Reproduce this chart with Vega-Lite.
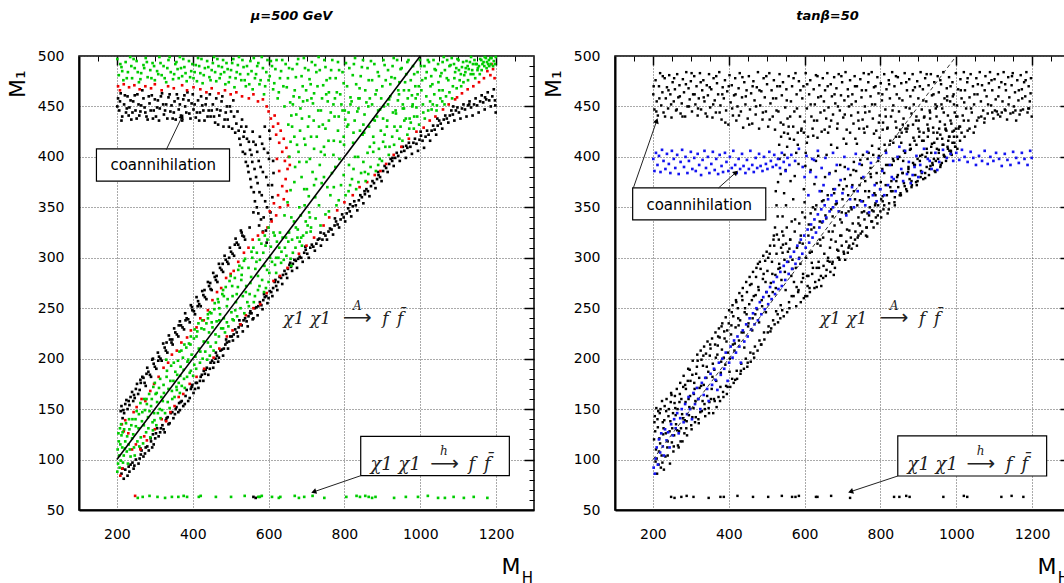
{
"$schema":"https://vega.github.io/schema/vega-lite/v6.json",
"background":"white",
"padding":{"left":5,"top":9,"right":0,"bottom":0},
"spacing":5,
"config":{
 "view":{"stroke":"black","strokeWidth":1.5},
 "axis":{"labelFont":"DejaVu Sans","labelFontSize":14,"labelColor":"black","titleFont":"DejaVu Sans","titleFontWeight":"normal","titleColor":"black","tickColor":"black","domainColor":"black","gridColor":"#555","gridDash":[1,2],"gridWidth":1},
 "title":{"font":"DejaVu Sans","fontSize":13,"fontWeight":"bold","fontStyle":"italic","color":"black"}
},
"datasets":{
"diag":[{"x":200,"y":100},{"x":1000,"y":500}],
"sub":[{"x":1300,"y":50,"t":"H"}],
"La":[
{"k":"box","x":146,"x2":497,"y":376,"y2":408},
{"k":"box","x":843,"x2":1235,"y":84,"y2":123},
{"k":"a1","x":330,"y":407,"x2":372,"y2":440},
{"k":"a2","x":843,"y":84,"x2":719,"y2":68},
{"k":"coan","x":322,"y":391.5,"t":"coannihilation"},
{"k":"chi","x":639,"y":234.4,"t":"χ1 χ1"},
{"k":"ar","x":834,"y":234.4,"t":"⟶"},
{"k":"ov","x":834,"y":248.6,"t":"A"},
{"k":"ff","x":899.5,"y":234.4,"t":"f\u2002f\u0304"},
{"k":"chiB","x":868.6,"y":89.7,"t":"χ1 χ1"},
{"k":"arB","x":1064,"y":89.7,"t":"⟶"},
{"k":"ovB","x":1062,"y":104.9,"t":"h"},
{"k":"ffB","x":1127,"y":89.7,"t":"f\u2002f\u0304"}
],
"Ra":[
{"k":"box","x":146.6,"x2":497.6,"y":337.5,"y2":369.2},
{"k":"box","x":845.8,"x2":1238.4,"y":83.7,"y2":123.4},
{"k":"a1","x":148.4,"y":369.2,"x2":210,"y2":435.8},
{"k":"a2","x":373,"y":369.2,"x2":419,"y2":384.6},
{"k":"a3","x":845.8,"y":83.7,"x2":721.4,"y2":68.2},
{"k":"coan","x":322,"y":352,"t":"coannihilation"},
{"k":"chi","x":640,"y":234.4,"t":"χ1 χ1"},
{"k":"ar","x":836,"y":234.4,"t":"⟶"},
{"k":"ov","x":836,"y":248.6,"t":"A"},
{"k":"ff","x":902,"y":234.4,"t":"f\u2002f\u0304"},
{"k":"chiB","x":871.4,"y":89.7,"t":"χ1 χ1"},
{"k":"arB","x":1065,"y":89.7,"t":"⟶"},
{"k":"ovB","x":1064,"y":104.9,"t":"h"},
{"k":"ffB","x":1130.7,"y":89.7,"t":"f\u2002f\u0304"}
],
"Lk":[
{"x":203,"y":458},{"x":206,"y":446},{"x":210,"y":463},{"x":214,"y":440},{"x":219,"y":452},{"x":224,"y":444},{"x":228,"y":460},{"x":233,"y":449},{"x":238,"y":437},{"x":243,"y":455},{"x":249,"y":446},{"x":254,"y":462},{"x":259,"y":441},{"x":264,"y":451},{"x":270,"y":458},{"x":275,"y":444},{"x":281,"y":437},{"x":286,"y":453},{"x":292,"y":461},{"x":297,"y":446},{"x":303,"y":440},{"x":308,"y":456},{"x":313,"y":448},{"x":319,"y":463},{"x":324,"y":442},{"x":330,"y":452},{"x":336,"y":459},{"x":341,"y":445},{"x":347,"y":438},{"x":352,"y":455},{"x":358,"y":462},{"x":363,"y":447},{"x":369,"y":441},{"x":375,"y":457},{"x":380,"y":450},{"x":386,"y":464},{"x":391,"y":443},{"x":397,"y":453},{"x":402,"y":447},{"x":408,"y":439},{"x":414,"y":456},{"x":419,"y":444},{"x":425,"y":451},{"x":431,"y":436},{"x":436,"y":458},{"x":442,"y":446},{"x":447,"y":440},{"x":453,"y":452},{"x":459,"y":434},{"x":464,"y":447},{"x":470,"y":441},{"x":476,"y":455},{"x":481,"y":430},{"x":487,"y":444},{"x":492,"y":437},{"x":498,"y":450},{"x":504,"y":428},{"x":509,"y":440},{"x":515,"y":433},
{"x":201,"y":450},{"x":208,"y":455},{"x":212,"y":436},{"x":221,"y":461},{"x":226,"y":448},{"x":231,"y":441},{"x":236,"y":456},{"x":241,"y":444},{"x":247,"y":461},{"x":252,"y":438},{"x":257,"y":452},{"x":262,"y":445},{"x":267,"y":466},{"x":273,"y":449},{"x":278,"y":440},{"x":284,"y":460},{"x":289,"y":446},{"x":295,"y":438},{"x":300,"y":457},{"x":306,"y":449},{"x":311,"y":436},{"x":316,"y":460},{"x":322,"y":452},{"x":327,"y":446},{"x":333,"y":438},{"x":339,"y":462},{"x":344,"y":451},{"x":350,"y":444},{"x":355,"y":437},{"x":361,"y":458},{"x":366,"y":452},{"x":372,"y":436},{"x":378,"y":461},{"x":383,"y":444},{"x":389,"y":456},{"x":394,"y":438},{"x":400,"y":462},{"x":405,"y":452},{"x":411,"y":444},{"x":417,"y":436},{"x":422,"y":460},{"x":428,"y":446},{"x":434,"y":452},{"x":439,"y":440},{"x":445,"y":462},{"x":450,"y":446},{"x":456,"y":440},{"x":462,"y":458},{"x":467,"y":432},{"x":473,"y":446},{"x":478,"y":460},{"x":484,"y":437},{"x":490,"y":450},{"x":495,"y":430},{"x":501,"y":445},{"x":507,"y":456},{"x":512,"y":424},{"x":518,"y":445},
{"x":521,"y":426},{"x":526,"y":412},{"x":530,"y":437},{"x":534,"y":420},{"x":538,"y":403},{"x":541,"y":430},{"x":545,"y":391},{"x":548,"y":415},{"x":552,"y":378},{"x":555,"y":402},{"x":558,"y":425},{"x":561,"y":365},{"x":563,"y":388},{"x":566,"y":412},{"x":569,"y":350},{"x":571,"y":374},{"x":574,"y":396},{"x":577,"y":420},{"x":580,"y":338},{"x":582,"y":362},{"x":585,"y":385},{"x":588,"y":408},{"x":590,"y":430},{"x":593,"y":327},{"x":596,"y":350},{"x":599,"y":372},{"x":601,"y":398},{"x":604,"y":418},{"x":607,"y":338},{"x":610,"y":360},{"x":613,"y":384},{"x":595,"y":315},{"x":585,"y":326},{"x":575,"y":332},{"x":560,"y":345},{"x":550,"y":330},
{"x":523,"y":418},{"x":528,"y":430},{"x":532,"y":405},{"x":536,"y":425},{"x":540,"y":395},{"x":543,"y":418},{"x":547,"y":385},{"x":551,"y":407},{"x":554,"y":370},{"x":557,"y":395},{"x":560,"y":415},{"x":564,"y":356},{"x":567,"y":380},{"x":570,"y":405},{"x":573,"y":344},{"x":576,"y":365},{"x":579,"y":390},{"x":583,"y":413},{"x":587,"y":340},{"x":591,"y":356},{"x":594,"y":380},{"x":598,"y":404},{"x":602,"y":426},{"x":605,"y":345},{"x":609,"y":372},{"x":612,"y":396},
{"x":210,"y":148},{"x":215,"y":141},{"x":222,"y":155},{"x":228,"y":150},{"x":236,"y":162},{"x":243,"y":158},{"x":250,"y":170},{"x":256,"y":165},{"x":263,"y":176},{"x":270,"y":181},{"x":276,"y":173},{"x":283,"y":187},{"x":290,"y":182},{"x":297,"y":195},{"x":304,"y":190},{"x":311,"y":202},{"x":318,"y":198},{"x":326,"y":211},{"x":333,"y":206},{"x":340,"y":219},{"x":347,"y":214},{"x":354,"y":226},{"x":362,"y":222},{"x":369,"y":233},{"x":377,"y":229},{"x":384,"y":240},{"x":392,"y":236},{"x":399,"y":248},{"x":406,"y":244},{"x":414,"y":257},{"x":421,"y":252},{"x":428,"y":263},{"x":436,"y":259},{"x":443,"y":272},{"x":450,"y":268},{"x":458,"y":281},{"x":465,"y":276},{"x":472,"y":290},{"x":480,"y":286},{"x":487,"y":298},{"x":494,"y":294},{"x":501,"y":306},{"x":509,"y":302},{"x":516,"y":315},{"x":524,"y":310},{"x":531,"y":322},{"x":538,"y":318},
{"x":212,"y":153},{"x":219,"y":146},{"x":225,"y":159},{"x":233,"y":154},{"x":240,"y":167},{"x":247,"y":161},{"x":253,"y":175},{"x":260,"y":169},{"x":267,"y":182},{"x":273,"y":176},{"x":280,"y":191},{"x":287,"y":184},{"x":293,"y":199},{"x":300,"y":192},{"x":308,"y":206},{"x":315,"y":200},{"x":322,"y":215},{"x":329,"y":208},{"x":337,"y":223},{"x":344,"y":216},{"x":351,"y":230},{"x":358,"y":224},{"x":366,"y":237},{"x":373,"y":231},{"x":380,"y":245},{"x":388,"y":239},{"x":395,"y":253},{"x":403,"y":247},{"x":410,"y":261},{"x":417,"y":254},{"x":425,"y":267},{"x":432,"y":261},{"x":440,"y":276},{"x":447,"y":269},{"x":454,"y":285},{"x":461,"y":278},{"x":469,"y":294},{"x":476,"y":288},{"x":484,"y":302},{"x":491,"y":296},{"x":498,"y":310},{"x":505,"y":304},{"x":513,"y":319},{"x":520,"y":313},{"x":527,"y":327},{"x":535,"y":321},
{"x":217,"y":149},{"x":231,"y":158},{"x":245,"y":164},{"x":262,"y":179},{"x":278,"y":185},{"x":295,"y":200},{"x":309,"y":198},{"x":331,"y":216},{"x":346,"y":219},{"x":363,"y":233},{"x":381,"y":238},{"x":398,"y":251},{"x":413,"y":252},{"x":431,"y":268},{"x":446,"y":275},{"x":463,"y":282},{"x":479,"y":294},{"x":496,"y":300},{"x":511,"y":313},{"x":529,"y":325},
{"x":212,"y":86},{"x":218,"y":81},{"x":222,"y":90},{"x":228,"y":84},{"x":236,"y":95},{"x":244,"y":91},{"x":250,"y":100},{"x":257,"y":96},{"x":263,"y":105},{"x":270,"y":103},{"x":276,"y":112},{"x":284,"y":109},{"x":290,"y":118},{"x":297,"y":115},{"x":303,"y":126},{"x":310,"y":123},{"x":316,"y":131},{"x":323,"y":130},{"x":329,"y":139},{"x":336,"y":135},{"x":342,"y":146},{"x":349,"y":141},{"x":355,"y":150},{"x":362,"y":147},{"x":368,"y":157},{"x":375,"y":153},{"x":381,"y":163},{"x":388,"y":158},{"x":395,"y":170},{"x":402,"y":166},{"x":408,"y":176},{"x":415,"y":171},{"x":421,"y":182},{"x":428,"y":178},{"x":434,"y":189},{"x":441,"y":184},{"x":447,"y":196},{"x":454,"y":191},{"x":460,"y":200},{"x":467,"y":197},{"x":473,"y":208},{"x":480,"y":203},{"x":486,"y":214},{"x":493,"y":210},{"x":499,"y":222},{"x":506,"y":218},{"x":512,"y":229},{"x":519,"y":222},{"x":525,"y":234},{"x":532,"y":227},{"x":538,"y":240},{"x":545,"y":232},{"x":551,"y":245},{"x":558,"y":239},{"x":564,"y":250},{"x":571,"y":243},{"x":577,"y":256},{"x":584,"y":249},{"x":590,"y":261},{"x":597,"y":255},{"x":603,"y":267},{"x":610,"y":262},{"x":616,"y":276},{"x":623,"y":268},{"x":629,"y":281},{"x":636,"y":274},{"x":642,"y":287},{"x":649,"y":280},{"x":655,"y":293},{"x":662,"y":287},{"x":668,"y":298},{"x":675,"y":290},{"x":682,"y":301},{"x":690,"y":296},{"x":698,"y":308},{"x":706,"y":300},{"x":714,"y":313},{"x":722,"y":307},{"x":730,"y":318},{"x":738,"y":312},{"x":746,"y":324},{"x":754,"y":318},{"x":762,"y":329},{"x":770,"y":323},{"x":778,"y":336},{"x":786,"y":330},{"x":794,"y":343},{"x":802,"y":336},{"x":810,"y":349},{"x":818,"y":341},{"x":826,"y":356},{"x":834,"y":347},{"x":842,"y":362},{"x":850,"y":354},{"x":858,"y":368},{"x":866,"y":361},{"x":874,"y":376},{"x":882,"y":369},{"x":890,"y":382},{"x":898,"y":376},{"x":906,"y":391},{"x":914,"y":385},{"x":922,"y":398},{"x":930,"y":391},{"x":938,"y":404},{"x":946,"y":396},{"x":954,"y":410},{"x":962,"y":399},{"x":970,"y":414},{"x":978,"y":403},{"x":986,"y":418},{"x":994,"y":406},{"x":1002,"y":421},{"x":1010,"y":409},{"x":1018,"y":426},{"x":1026,"y":416},{"x":1034,"y":431},{"x":1042,"y":422},{"x":1050,"y":436},{"x":1058,"y":428},{"x":1066,"y":441},{"x":1074,"y":434},{"x":1082,"y":446},{"x":1090,"y":436},{"x":1098,"y":449},{"x":1106,"y":438},{"x":1114,"y":452},{"x":1122,"y":440},{"x":1130,"y":455},{"x":1138,"y":441},{"x":1146,"y":458},{"x":1154,"y":444},{"x":1162,"y":461},{"x":1170,"y":447},{"x":1178,"y":464},{"x":1186,"y":450},{"x":1194,"y":467},{"x":1199,"y":444},{"x":1197,"y":456},
{"x":215,"y":91},{"x":233,"y":88},{"x":241,"y":97},{"x":246,"y":94},{"x":260,"y":101},{"x":265,"y":109},{"x":274,"y":106},{"x":280,"y":113},{"x":289,"y":121},{"x":293,"y":112},{"x":301,"y":121},{"x":306,"y":131},{"x":314,"y":127},{"x":320,"y":134},{"x":326,"y":127},{"x":334,"y":142},{"x":339,"y":136},{"x":346,"y":147},{"x":353,"y":145},{"x":357,"y":152},{"x":366,"y":149},{"x":371,"y":158},{"x":379,"y":155},{"x":384,"y":169},{"x":392,"y":161},{"x":397,"y":172},{"x":406,"y":170},{"x":411,"y":176},{"x":419,"y":178},{"x":424,"y":184},{"x":432,"y":185},{"x":437,"y":191},{"x":445,"y":190},{"x":451,"y":198},{"x":456,"y":196},{"x":464,"y":203},{"x":469,"y":201},{"x":477,"y":209},{"x":482,"y":210},{"x":490,"y":216},{"x":496,"y":217},{"x":503,"y":222},{"x":508,"y":224},{"x":516,"y":226},{"x":521,"y":231},{"x":529,"y":233},{"x":534,"y":238},{"x":542,"y":237},{"x":547,"y":242},{"x":555,"y":245},{"x":560,"y":240},{"x":568,"y":251},{"x":573,"y":252},{"x":581,"y":253},{"x":586,"y":258},{"x":594,"y":262},{"x":600,"y":260},{"x":607,"y":266},{"x":612,"y":270},{"x":620,"y":272},{"x":625,"y":276},{"x":633,"y":280},{"x":638,"y":283},{"x":646,"y":284},{"x":651,"y":289},{"x":659,"y":291},{"x":664,"y":294},{"x":672,"y":297},{"x":678,"y":299},{"x":686,"y":300},{"x":694,"y":305},{"x":702,"y":304},{"x":710,"y":310},{"x":718,"y":311},{"x":726,"y":314},{"x":734,"y":319},{"x":742,"y":318},{"x":750,"y":322},{"x":758,"y":326},{"x":766,"y":328},{"x":774,"y":332},{"x":782,"y":333},{"x":790,"y":338},{"x":798,"y":340},{"x":806,"y":344},{"x":814,"y":346},{"x":822,"y":351},{"x":830,"y":352},{"x":838,"y":357},{"x":846,"y":360},{"x":854,"y":363},{"x":862,"y":366},{"x":870,"y":371},{"x":878,"y":374},{"x":886,"y":378},{"x":894,"y":380},{"x":902,"y":386},{"x":910,"y":389},{"x":918,"y":393},{"x":926,"y":396},{"x":934,"y":399},{"x":942,"y":401},{"x":950,"y":405},{"x":958,"y":406},{"x":966,"y":409},{"x":974,"y":410},{"x":982,"y":414},{"x":990,"y":413},{"x":998,"y":417},{"x":1006,"y":416},{"x":1014,"y":420},{"x":1022,"y":422},{"x":1030,"y":426},{"x":1038,"y":427},{"x":1046,"y":431},{"x":1054,"y":433},{"x":1062,"y":437},{"x":1070,"y":438},{"x":1078,"y":441},{"x":1086,"y":442},{"x":1094,"y":446},{"x":1102,"y":444},{"x":1110,"y":448},{"x":1118,"y":447},{"x":1126,"y":451},{"x":1134,"y":449},{"x":1142,"y":452},{"x":1150,"y":451},{"x":1158,"y":455},{"x":1166,"y":454},{"x":1174,"y":457},{"x":1182,"y":456},{"x":1190,"y":460},{"x":1198,"y":451},
{"x":231,"y":93},{"x":262,"y":111},{"x":295,"y":125},{"x":331,"y":141},{"x":364,"y":156},{"x":399,"y":174},{"x":429,"y":188},{"x":461,"y":206},{"x":488,"y":219},{"x":523,"y":238},{"x":552,"y":247},{"x":588,"y":264},{"x":618,"y":278},{"x":657,"y":295},{"x":697,"y":311},{"x":737,"y":325},{"x":775,"y":339},{"x":815,"y":353},{"x":853,"y":366},{"x":889,"y":385},{"x":927,"y":399},{"x":963,"y":411},{"x":1001,"y":425},{"x":1045,"y":438},{"x":1087,"y":450},{"x":1129,"y":452},{"x":1171,"y":459},
{"x":560,"y":63},{"x":566,"y":62}
],
"Lr":[
{"x":203,"y":470},{"x":208,"y":466},{"x":218,"y":472},{"x":232,"y":469},{"x":246,"y":471},{"x":260,"y":467},{"x":275,"y":470},{"x":290,"y":468},{"x":300,"y":472},{"x":318,"y":466},{"x":335,"y":470},{"x":350,"y":468},{"x":372,"y":471},{"x":385,"y":466},{"x":402,"y":469},{"x":420,"y":467},{"x":436,"y":464},{"x":450,"y":468},{"x":468,"y":463},{"x":485,"y":466},{"x":500,"y":462},{"x":515,"y":464},{"x":530,"y":460},{"x":548,"y":458},{"x":560,"y":462},{"x":572,"y":455},{"x":585,"y":457},{"x":595,"y":450},
{"x":600,"y":445},{"x":606,"y":438},{"x":612,"y":430},{"x":616,"y":441},{"x":620,"y":422},{"x":625,"y":433},{"x":628,"y":414},{"x":632,"y":426},{"x":636,"y":405},{"x":640,"y":418},{"x":643,"y":396},{"x":647,"y":409},{"x":650,"y":388},{"x":653,"y":400},{"x":645,"y":378},{"x":648,"y":366},{"x":640,"y":358},{"x":636,"y":371},{"x":630,"y":350},{"x":625,"y":362},{"x":620,"y":342},{"x":614,"y":354},{"x":608,"y":336},{"x":603,"y":346},{"x":597,"y":330},{"x":656,"y":392},{"x":651,"y":352},{"x":628,"y":386},{"x":622,"y":398},
{"x":213,"y":135},{"x":218,"y":128},{"x":222,"y":139},{"x":230,"y":126},{"x":244,"y":147},{"x":252,"y":152},{"x":265,"y":160},{"x":275,"y":158},{"x":288,"y":168},{"x":298,"y":175},{"x":310,"y":182},{"x":323,"y":191},{"x":335,"y":196},{"x":345,"y":204},{"x":358,"y":208},{"x":370,"y":216},{"x":385,"y":221},{"x":395,"y":228},{"x":410,"y":231},{"x":420,"y":240},{"x":429,"y":238},{"x":440,"y":248},{"x":452,"y":258},{"x":464,"y":266},{"x":475,"y":270},{"x":488,"y":280},{"x":500,"y":284},{"x":508,"y":287},{"x":520,"y":296},{"x":535,"y":305},{"x":547,"y":310},{"x":558,"y":318},{"x":572,"y":322},{"x":585,"y":325},
{"x":209,"y":84},{"x":214,"y":91},{"x":240,"y":110},{"x":250,"y":115},{"x":262,"y":110},{"x":272,"y":123},{"x":279,"y":119},{"x":300,"y":130},{"x":318,"y":140},{"x":330,"y":138},{"x":341,"y":147},{"x":352,"y":153},{"x":363,"y":162},{"x":375,"y":165},{"x":392,"y":175},{"x":410,"y":182},{"x":430,"y":190},{"x":455,"y":201},{"x":470,"y":210},{"x":490,"y":222},{"x":505,"y":228},{"x":526,"y":234},{"x":540,"y":243},{"x":560,"y":250},{"x":578,"y":254},{"x":595,"y":265},{"x":613,"y":277},{"x":630,"y":282},{"x":650,"y":290},{"x":680,"y":304},{"x":700,"y":312},{"x":720,"y":320},{"x":745,"y":332},{"x":760,"y":340},{"x":781,"y":347},{"x":800,"y":355},{"x":822,"y":362},{"x":840,"y":370},{"x":860,"y":375},{"x":880,"y":382},{"x":895,"y":386},{"x":910,"y":393},{"x":930,"y":402},{"x":950,"y":410},{"x":970,"y":418},{"x":990,"y":425},{"x":1009,"y":429},{"x":1025,"y":436},{"x":1040,"y":440},{"x":1060,"y":447},{"x":1075,"y":452},{"x":1092,"y":457},{"x":1097,"y":459},{"x":1110,"y":463},{"x":1125,"y":467},{"x":1140,"y":470},{"x":1155,"y":474},{"x":1168,"y":478},{"x":1177,"y":485},{"x":1185,"y":481},{"x":1192,"y":487},{"x":1196,"y":478},{"x":1188,"y":492},
{"x":248,"y":64}
],
"Lg":[
{"x":201,"y":497},{"x":205,"y":481},{"x":212,"y":489},{"x":217,"y":476},{"x":223,"y":494},{"x":229,"y":484},{"x":235,"y":499},{"x":240,"y":478},{"x":247,"y":488},{"x":252,"y":495},{"x":258,"y":474},{"x":264,"y":483},{"x":270,"y":491},{"x":276,"y":498},{"x":281,"y":479},{"x":288,"y":486},{"x":294,"y":493},{"x":300,"y":476},{"x":306,"y":485},{"x":312,"y":499},{"x":318,"y":481},{"x":323,"y":490},{"x":330,"y":474},{"x":336,"y":496},{"x":342,"y":484},{"x":348,"y":477},{"x":354,"y":492},{"x":360,"y":487},{"x":366,"y":499},{"x":372,"y":480},{"x":378,"y":489},{"x":384,"y":475},{"x":390,"y":495},{"x":396,"y":485},{"x":402,"y":478},{"x":408,"y":491},{"x":414,"y":498},{"x":420,"y":483},{"x":426,"y":473},{"x":432,"y":488},{"x":438,"y":495},{"x":444,"y":479},{"x":450,"y":486},{"x":456,"y":499},{"x":462,"y":475},{"x":468,"y":490},{"x":474,"y":482},{"x":480,"y":496},{"x":486,"y":472},{"x":492,"y":487},{"x":498,"y":479},{"x":504,"y":493},{"x":510,"y":469},{"x":516,"y":484},{"x":522,"y":499},{"x":528,"y":476},{"x":534,"y":489},{"x":540,"y":470},{"x":546,"y":482},{"x":552,"y":495},{"x":558,"y":467},{"x":564,"y":478},{"x":570,"y":490},{"x":576,"y":472},{"x":582,"y":499},{"x":588,"y":462},{"x":594,"y":484},{"x":600,"y":476},{"x":606,"y":495},{"x":612,"y":467},{"x":618,"y":487},{"x":624,"y":458},{"x":630,"y":478},{"x":636,"y":496},{"x":642,"y":450},{"x":648,"y":469},{"x":654,"y":488},{"x":660,"y":441},{"x":666,"y":460},{"x":672,"y":479},{"x":678,"y":497},{"x":684,"y":448},{"x":690,"y":470},{"x":696,"y":488},{"x":702,"y":456},{"x":708,"y":477},{"x":714,"y":494},{"x":720,"y":463},{"x":726,"y":484},{"x":732,"y":499},{"x":738,"y":446},{"x":744,"y":471},{"x":750,"y":489},{"x":756,"y":455},{"x":762,"y":478},{"x":768,"y":496},{"x":774,"y":440},{"x":780,"y":464},{"x":786,"y":486},{"x":792,"y":452},{"x":798,"y":473},{"x":804,"y":493},{"x":810,"y":432},{"x":816,"y":459},{"x":822,"y":481},{"x":828,"y":498},{"x":834,"y":445},{"x":840,"y":468},{"x":846,"y":489},{"x":852,"y":424},{"x":858,"y":454},{"x":864,"y":476},{"x":870,"y":495},{"x":876,"y":437},{"x":882,"y":462},{"x":888,"y":484},{"x":894,"y":447},{"x":900,"y":470},{"x":906,"y":491},{"x":912,"y":430},{"x":918,"y":457},{"x":924,"y":479},{"x":930,"y":498},{"x":936,"y":443},{"x":942,"y":466},{"x":948,"y":487},{"x":954,"y":452},{"x":960,"y":474},{"x":966,"y":494},{"x":972,"y":438},{"x":978,"y":461},{"x":984,"y":482},{"x":990,"y":449},{"x":996,"y":470},{"x":1002,"y":490},{"x":1008,"y":444},{"x":1014,"y":478},{"x":1020,"y":496},{"x":1026,"y":455},{"x":1032,"y":472},{"x":1038,"y":487},{"x":1044,"y":451},{"x":1050,"y":466},{"x":1056,"y":483},{"x":1062,"y":499},{"x":1068,"y":460},{"x":1074,"y":476},{"x":1080,"y":491},{"x":1086,"y":470},{"x":1092,"y":484},{"x":1098,"y":497},{"x":1104,"y":476},{"x":1110,"y":489},{"x":1116,"y":481},{"x":1122,"y":495},{"x":1128,"y":487},{"x":1134,"y":499},{"x":1140,"y":482},{"x":1146,"y":492},{"x":1152,"y":488},{"x":1158,"y":497},{"x":1164,"y":492},{"x":1170,"y":499},{"x":1176,"y":494},{"x":1182,"y":490},{"x":1188,"y":498},{"x":1194,"y":495},{"x":1199,"y":499},
{"x":209,"y":492},{"x":214,"y":485},{"x":226,"y":478},{"x":238,"y":490},{"x":244,"y":497},{"x":255,"y":484},{"x":262,"y":477},{"x":272,"y":488},{"x":279,"y":494},{"x":291,"y":478},{"x":298,"y":490},{"x":309,"y":482},{"x":315,"y":493},{"x":326,"y":478},{"x":333,"y":488},{"x":339,"y":499},{"x":351,"y":482},{"x":357,"y":494},{"x":363,"y":478},{"x":369,"y":488},{"x":375,"y":497},{"x":381,"y":483},{"x":393,"y":479},{"x":399,"y":492},{"x":405,"y":484},{"x":411,"y":475},{"x":417,"y":490},{"x":423,"y":497},{"x":429,"y":481},{"x":441,"y":489},{"x":447,"y":476},{"x":453,"y":493},{"x":459,"y":484},{"x":465,"y":497},{"x":471,"y":478},{"x":477,"y":489},{"x":483,"y":484},{"x":489,"y":493},{"x":495,"y":474},{"x":501,"y":486},{"x":507,"y":497},{"x":513,"y":478},{"x":519,"y":491},{"x":525,"y":482},{"x":531,"y":496},{"x":537,"y":476},{"x":543,"y":490},{"x":549,"y":472},{"x":555,"y":485},{"x":561,"y":498},{"x":567,"y":482},{"x":573,"y":493},{"x":579,"y":476},{"x":585,"y":488},{"x":591,"y":470},{"x":597,"y":496},{"x":603,"y":480},{"x":609,"y":490},{"x":615,"y":473},{"x":621,"y":496},{"x":627,"y":464},{"x":633,"y":485},{"x":639,"y":470},{"x":645,"y":492},{"x":651,"y":478},{"x":657,"y":454},{"x":663,"y":487},{"x":669,"y":466},{"x":675,"y":492},{"x":681,"y":459},{"x":687,"y":480},{"x":693,"y":498},{"x":699,"y":466},{"x":705,"y":486},{"x":711,"y":472},{"x":717,"y":453},{"x":723,"y":491},{"x":729,"y":470},{"x":735,"y":486},{"x":741,"y":458},{"x":747,"y":496},{"x":753,"y":476},{"x":759,"y":464},{"x":765,"y":486},{"x":771,"y":452},{"x":777,"y":478},{"x":783,"y":494},{"x":789,"y":462},{"x":795,"y":484},{"x":801,"y":446},{"x":807,"y":470},{"x":813,"y":488},{"x":819,"y":455},{"x":825,"y":492},{"x":831,"y":472},{"x":837,"y":458},{"x":843,"y":480},{"x":849,"y":496},{"x":855,"y":466},{"x":861,"y":488},{"x":867,"y":458},{"x":873,"y":476},{"x":879,"y":492},{"x":885,"y":466},{"x":891,"y":480},{"x":897,"y":458},{"x":903,"y":496},{"x":909,"y":476},{"x":915,"y":486},{"x":921,"y":472},{"x":927,"y":490},{"x":933,"y":478},{"x":939,"y":496},{"x":945,"y":474},{"x":951,"y":488},{"x":957,"y":466},{"x":963,"y":482},{"x":969,"y":496},{"x":975,"y":476},{"x":981,"y":490},{"x":987,"y":470},{"x":993,"y":484},{"x":999,"y":496},{"x":1005,"y":476},{"x":1011,"y":490},{"x":1017,"y":484},{"x":1023,"y":494},{"x":1029,"y":480},{"x":1035,"y":496},{"x":1041,"y":486},{"x":1047,"y":492},{"x":1053,"y":480},{"x":1059,"y":494},{"x":1065,"y":486},{"x":1071,"y":496},{"x":1077,"y":490},{"x":1083,"y":498},{"x":1089,"y":492},{"x":1095,"y":488},{"x":1101,"y":496},{"x":1107,"y":482},{"x":1113,"y":494},{"x":1119,"y":484},{"x":1125,"y":490},{"x":1131,"y":494},{"x":1137,"y":486},{"x":1143,"y":496},{"x":1149,"y":492},{"x":1155,"y":490},{"x":1161,"y":496},{"x":1167,"y":494},{"x":1173,"y":498},{"x":1179,"y":492},{"x":1185,"y":498},
{"x":662,"y":430},{"x":675,"y":412},{"x":688,"y":438},{"x":700,"y":395},{"x":712,"y":420},{"x":725,"y":378},{"x":738,"y":405},{"x":750,"y":428},{"x":763,"y":362},{"x":776,"y":390},{"x":789,"y":415},{"x":802,"y":437},{"x":815,"y":372},{"x":828,"y":400},{"x":841,"y":426},{"x":854,"y":385},{"x":867,"y":410},{"x":880,"y":436},{"x":893,"y":398},{"x":906,"y":422},{"x":919,"y":410},{"x":932,"y":430},{"x":945,"y":418},{"x":958,"y":436},{"x":971,"y":428},{"x":984,"y":440},{"x":1030,"y":447},{"x":1058,"y":455},{"x":668,"y":375},{"x":681,"y":350},{"x":694,"y":368},{"x":707,"y":345},{"x":720,"y":372},{"x":733,"y":352},{"x":746,"y":380},{"x":759,"y":346},{"x":772,"y":370},{"x":785,"y":357},{"x":798,"y":382},{"x":811,"y":366},{"x":824,"y":388},{"x":837,"y":375},{"x":850,"y":395},{"x":863,"y":383},{"x":876,"y":405},{"x":889,"y":392},{"x":902,"y":415},{"x":655,"y":400},{"x":668,"y":420},{"x":681,"y":395},{"x":694,"y":418},{"x":707,"y":440},{"x":720,"y":408},{"x":733,"y":430},{"x":746,"y":410},{"x":759,"y":436},{"x":772,"y":416},{"x":785,"y":440},{"x":798,"y":420},{"x":811,"y":444},{"x":824,"y":424},{"x":837,"y":448},{"x":850,"y":432},{"x":863,"y":450},{"x":876,"y":420},{"x":889,"y":446},{"x":902,"y":438},{"x":915,"y":452},{"x":928,"y":444},{"x":941,"y":456},{"x":954,"y":448},{"x":967,"y":458},{"x":980,"y":452},{"x":993,"y":462},{"x":660,"y":340},{"x":672,"y":330},{"x":686,"y":320},{"x":698,"y":336},{"x":711,"y":326},{"x":724,"y":339},{"x":737,"y":332},{"x":750,"y":343},{"x":642,"y":342},{"x":650,"y":355},{"x":658,"y":367},{"x":646,"y":320},{"x":634,"y":306},{"x":620,"y":300},{"x":630,"y":325},
{"x":652,"y":432},{"x":658,"y":415},{"x":664,"y":452},{"x":670,"y":390},{"x":673,"y":442},{"x":679,"y":405},{"x":683,"y":426},{"x":687,"y":380},{"x":691,"y":455},{"x":697,"y":412},{"x":701,"y":368},{"x":704,"y":430},{"x":709,"y":398},{"x":713,"y":458},{"x":716,"y":385},{"x":719,"y":436},{"x":723,"y":360},{"x":727,"y":420},{"x":731,"y":446},{"x":735,"y":392},{"x":740,"y":374},{"x":743,"y":432},{"x":748,"y":402},{"x":752,"y":462},{"x":755,"y":370},{"x":758,"y":416},{"x":764,"y":444},{"x":767,"y":384},{"x":771,"y":402},{"x":775,"y":458},{"x":779,"y":352},{"x":783,"y":426},{"x":787,"y":398},{"x":791,"y":372},{"x":795,"y":446},{"x":799,"y":412},{"x":803,"y":362},{"x":807,"y":430},{"x":812,"y":392},{"x":816,"y":452},{"x":820,"y":378},{"x":823,"y":414},{"x":827,"y":436},{"x":831,"y":368},{"x":836,"y":400},{"x":840,"y":458},{"x":844,"y":384},{"x":848,"y":422},{"x":853,"y":442},{"x":856,"y":376},{"x":861,"y":404},{"x":865,"y":430},{"x":869,"y":390},{"x":873,"y":452},{"x":878,"y":414},{"x":883,"y":386},{"x":886,"y":440},{"x":891,"y":408},{"x":896,"y":426},{"x":899,"y":396},{"x":904,"y":450},{"x":908,"y":410},{"x":913,"y":436},{"x":917,"y":402},{"x":921,"y":460},{"x":926,"y":420},{"x":931,"y":412},{"x":935,"y":446},{"x":939,"y":426},{"x":944,"y":462},{"x":948,"y":430},{"x":953,"y":416},{"x":957,"y":448},{"x":962,"y":438},{"x":966,"y":422},{"x":970,"y":466},{"x":975,"y":434},{"x":979,"y":450},{"x":983,"y":428},{"x":988,"y":458},{"x":992,"y":440},{"x":997,"y":432},{"x":1003,"y":466},{"x":1007,"y":452},{"x":1012,"y":438},{"x":1016,"y":460},{"x":1021,"y":446},{"x":1027,"y":470},{"x":1033,"y":452},{"x":1037,"y":462},{"x":1043,"y":446},{"x":1048,"y":474},{"x":1053,"y":458},{"x":1059,"y":466},{"x":1064,"y":452},{"x":1070,"y":478},{"x":1077,"y":464},{"x":1084,"y":458},{"x":1090,"y":478},{"x":1096,"y":468},{"x":1102,"y":486},{"x":1108,"y":470},{"x":1114,"y":474},{"x":1120,"y":488},{"x":1126,"y":476},{"x":1133,"y":482},{"x":1139,"y":492},{"x":1145,"y":478},{"x":1151,"y":486},{"x":1157,"y":482},{"x":1162,"y":486},{"x":1169,"y":490},{"x":1175,"y":488},{"x":1181,"y":496},{"x":1186,"y":492},{"x":1192,"y":490},{"x":1197,"y":492},
{"x":201,"y":88},{"x":203,"y":96},{"x":206,"y":104},{"x":202,"y":110},{"x":210,"y":99},{"x":214,"y":112},{"x":218,"y":104},{"x":222,"y":118},{"x":226,"y":108},{"x":231,"y":115},{"x":236,"y":103},{"x":240,"y":121},{"x":245,"y":112},{"x":205,"y":118},{"x":212,"y":124},
{"x":208,"y":131},{"x":215,"y":127},{"x":224,"y":136},{"x":233,"y":130},{"x":241,"y":140},{"x":250,"y":133},{"x":258,"y":145},{"x":266,"y":138},{"x":274,"y":149},{"x":282,"y":142},{"x":290,"y":153},{"x":298,"y":146},{"x":306,"y":157},{"x":313,"y":150},{"x":232,"y":140},{"x":252,"y":148},{"x":262,"y":156},{"x":278,"y":160},{"x":294,"y":137},{"x":321,"y":158},
{"x":272,"y":160},{"x":285,"y":165},{"x":296,"y":172},{"x":305,"y":166},{"x":314,"y":180},{"x":323,"y":174},{"x":332,"y":188},{"x":341,"y":178},{"x":350,"y":196},{"x":359,"y":184},{"x":368,"y":192},{"x":377,"y":180},{"x":386,"y":197},{"x":395,"y":188},{"x":404,"y":194},{"x":300,"y":176},{"x":330,"y":199},{"x":345,"y":168},{"x":357,"y":172},{"x":366,"y":166},
{"x":365,"y":207},{"x":378,"y":214},{"x":395,"y":222},{"x":370,"y":208},{"x":405,"y":229},{"x":390,"y":215},{"x":415,"y":235},{"x":410,"y":222},{"x":420,"y":207},{"x":430,"y":229},{"x":440,"y":216},{"x":450,"y":236},{"x":460,"y":224},{"x":470,"y":238},{"x":480,"y":230},{"x":440,"y":244},{"x":425,"y":238},{"x":490,"y":236},{"x":505,"y":239},{"x":445,"y":203},
{"x":445,"y":246},{"x":458,"y":255},{"x":470,"y":250},{"x":482,"y":262},{"x":468,"y":256},{"x":480,"y":268},{"x":492,"y":259},{"x":504,"y":272},{"x":516,"y":264},{"x":528,"y":278},{"x":540,"y":266},{"x":552,"y":275},{"x":564,"y":262},{"x":576,"y":272},{"x":588,"y":266},{"x":600,"y":276},{"x":500,"y":282},{"x":512,"y":248},{"x":548,"y":252},{"x":440,"y":240},
{"x":520,"y":288},{"x":535,"y":297},{"x":530,"y":290},{"x":560,"y":310},{"x":555,"y":306},{"x":568,"y":296},{"x":590,"y":322},{"x":592,"y":312},{"x":604,"y":300},{"x":616,"y":322},{"x":628,"y":310},{"x":640,"y":298},{"x":652,"y":316},{"x":664,"y":305},{"x":676,"y":320},{"x":688,"y":312},{"x":572,"y":282},{"x":596,"y":288},{"x":620,"y":285},{"x":660,"y":292},{"x":575,"y":318},{"x":600,"y":330},{"x":700,"y":325},{"x":712,"y":330},
{"x":204,"y":126},{"x":207,"y":92},{"x":209,"y":115},{"x":211,"y":135},{"x":216,"y":97},{"x":219,"y":130},{"x":221,"y":111},{"x":227,"y":123},{"x":229,"y":96},{"x":234,"y":110},{"x":238,"y":134},{"x":243,"y":125},{"x":247,"y":104},{"x":249,"y":140},{"x":254,"y":118},{"x":257,"y":131},{"x":259,"y":113},
{"x":263,"y":122},{"x":267,"y":147},{"x":269,"y":116},{"x":271,"y":134},{"x":277,"y":127},{"x":279,"y":155},{"x":283,"y":131},{"x":286,"y":148},{"x":288,"y":122},{"x":292,"y":160},{"x":295,"y":129},{"x":299,"y":139},{"x":302,"y":165},{"x":304,"y":134},{"x":308,"y":146},{"x":311,"y":171},{"x":315,"y":141},{"x":317,"y":162},{"x":319,"y":149},
{"x":324,"y":166},{"x":327,"y":146},{"x":331,"y":182},{"x":334,"y":157},{"x":336,"y":170},{"x":339,"y":151},{"x":343,"y":193},{"x":346,"y":160},{"x":349,"y":178},{"x":352,"y":162},{"x":354,"y":187},{"x":358,"y":169},{"x":361,"y":198},{"x":363,"y":176},{"x":367,"y":183},{"x":371,"y":173},{"x":374,"y":201},{"x":376,"y":189},{"x":379,"y":171},
{"x":383,"y":211},{"x":385,"y":182},{"x":388,"y":199},{"x":392,"y":186},{"x":394,"y":214},{"x":397,"y":204},{"x":401,"y":183},{"x":403,"y":220},{"x":407,"y":202},{"x":409,"y":190},{"x":412,"y":227},{"x":416,"y":210},{"x":419,"y":196},{"x":423,"y":230},{"x":426,"y":200},{"x":429,"y":217},{"x":433,"y":207},{"x":436,"y":235},{"x":438,"y":199},
{"x":443,"y":226},{"x":447,"y":212},{"x":449,"y":245},{"x":452,"y":231},{"x":455,"y":208},{"x":457,"y":249},{"x":461,"y":216},{"x":463,"y":237},{"x":466,"y":259},{"x":469,"y":222},{"x":472,"y":244},{"x":475,"y":230},{"x":478,"y":264},{"x":482,"y":240},{"x":485,"y":226},{"x":487,"y":271},{"x":490,"y":252},{"x":494,"y":232},{"x":497,"y":277},
{"x":502,"y":246},{"x":505,"y":262},{"x":508,"y":238},{"x":511,"y":280},{"x":514,"y":256},{"x":517,"y":242},{"x":519,"y":271},{"x":523,"y":292},{"x":526,"y":250},{"x":529,"y":283},{"x":532,"y":262},{"x":536,"y":245},{"x":538,"y":299},{"x":541,"y":272},{"x":544,"y":256},{"x":547,"y":290},{"x":550,"y":264},{"x":554,"y":281},{"x":557,"y":300},
{"x":561,"y":256},{"x":565,"y":289},{"x":569,"y":305},{"x":572,"y":268},{"x":577,"y":298},{"x":581,"y":314},{"x":583,"y":278},{"x":586,"y":305},{"x":589,"y":292},{"x":593,"y":270},{"x":597,"y":318},{"x":602,"y":285},{"x":606,"y":311},{"x":609,"y":296},{"x":613,"y":325},{"x":617,"y":293},{"x":622,"y":316},{"x":626,"y":300},{"x":633,"y":295},{"x":637,"y":320},
{"x":643,"y":310},{"x":647,"y":302},{"x":654,"y":325},{"x":658,"y":299},{"x":662,"y":318},{"x":667,"y":336},{"x":671,"y":310},{"x":677,"y":328},{"x":682,"y":316},{"x":685,"y":342},{"x":691,"y":322},{"x":695,"y":352},{"x":703,"y":332},{"x":706,"y":361},{"x":709,"y":340},
{"x":255,"y":62},{"x":268,"y":63},{"x":286,"y":64},{"x":307,"y":63},{"x":327,"y":62},{"x":345,"y":63},{"x":362,"y":63},{"x":376,"y":64},{"x":385,"y":63},{"x":416,"y":63},{"x":421,"y":64},{"x":461,"y":63},{"x":501,"y":63},{"x":537,"y":64},{"x":573,"y":63},{"x":577,"y":63},{"x":582,"y":64},{"x":609,"y":63},{"x":627,"y":62},{"x":631,"y":63},{"x":669,"y":64},{"x":680,"y":62},{"x":694,"y":63},{"x":716,"y":64},{"x":747,"y":62},{"x":805,"y":63},{"x":832,"y":64},{"x":841,"y":63},{"x":855,"y":64},{"x":864,"y":63},{"x":873,"y":62},{"x":882,"y":63},{"x":931,"y":62},{"x":962,"y":63},{"x":994,"y":63},{"x":1020,"y":64},{"x":1047,"y":62},{"x":1065,"y":62},{"x":1088,"y":63},{"x":1115,"y":62},{"x":1141,"y":63},{"x":1177,"y":62}
],
"Rk":[
{"x":201,"y":462},{"x":204,"y":447},{"x":207,"y":476},{"x":210,"y":455},{"x":213,"y":441},{"x":216,"y":470},{"x":219,"y":483},{"x":222,"y":451},{"x":225,"y":464},{"x":228,"y":444},{"x":231,"y":478},{"x":234,"y":458},{"x":237,"y":469},{"x":240,"y":448},{"x":243,"y":481},{"x":246,"y":462},{"x":249,"y":439},{"x":252,"y":474},{"x":255,"y":455},{"x":258,"y":467},{"x":261,"y":446},{"x":264,"y":482},{"x":267,"y":459},{"x":270,"y":471},{"x":273,"y":443},{"x":276,"y":453},{"x":279,"y":477},{"x":282,"y":464},{"x":285,"y":440},{"x":288,"y":484},{"x":291,"y":450},{"x":294,"y":468},{"x":297,"y":457},{"x":300,"y":475},{"x":303,"y":445},{"x":306,"y":462},{"x":309,"y":480},{"x":312,"y":452},{"x":315,"y":470},{"x":318,"y":441},{"x":321,"y":458},{"x":324,"y":483},{"x":327,"y":447},{"x":330,"y":466},{"x":333,"y":476},{"x":336,"y":455},{"x":339,"y":443},{"x":342,"y":471},{"x":345,"y":461},{"x":348,"y":482},{"x":351,"y":449},{"x":354,"y":467},{"x":357,"y":439},{"x":360,"y":478},{"x":363,"y":456},{"x":366,"y":444},{"x":369,"y":473},{"x":372,"y":462},{"x":375,"y":484},{"x":378,"y":451},{"x":381,"y":437},{"x":384,"y":469},{"x":387,"y":458},{"x":390,"y":476},{"x":393,"y":446},{"x":396,"y":465},{"x":399,"y":432},{"x":402,"y":481},{"x":405,"y":454},{"x":408,"y":471},{"x":411,"y":441},{"x":414,"y":461},{"x":417,"y":478},{"x":420,"y":436},{"x":423,"y":450},{"x":426,"y":468},{"x":429,"y":483},{"x":432,"y":445},{"x":435,"y":459},{"x":438,"y":429},{"x":441,"y":474},{"x":444,"y":452},{"x":447,"y":466},{"x":450,"y":438},{"x":453,"y":480},{"x":456,"y":447},{"x":459,"y":463},{"x":462,"y":433},{"x":465,"y":475},{"x":468,"y":456},{"x":471,"y":442},{"x":474,"y":469},{"x":477,"y":484},{"x":480,"y":428},{"x":483,"y":451},{"x":486,"y":465},{"x":489,"y":437},{"x":492,"y":478},{"x":495,"y":459},{"x":498,"y":445},{"x":501,"y":472},{"x":504,"y":430},{"x":507,"y":483},{"x":510,"y":453},{"x":513,"y":466},{"x":516,"y":440},{"x":519,"y":476},{"x":522,"y":427},{"x":525,"y":458},{"x":528,"y":470},{"x":531,"y":445},{"x":534,"y":482},{"x":537,"y":434},{"x":540,"y":461},{"x":543,"y":474},{"x":546,"y":424},{"x":549,"y":449},{"x":552,"y":467},{"x":555,"y":438},{"x":558,"y":480},{"x":561,"y":418},{"x":564,"y":455},{"x":567,"y":470},{"x":570,"y":430},{"x":573,"y":445},{"x":576,"y":483},{"x":579,"y":462},{"x":582,"y":412},{"x":585,"y":475},{"x":588,"y":440},{"x":591,"y":426},{"x":594,"y":458},{"x":597,"y":470},{"x":600,"y":435},{"x":603,"y":483},{"x":606,"y":448},{"x":609,"y":420},{"x":612,"y":462},{"x":615,"y":476},{"x":618,"y":440},{"x":621,"y":428},{"x":624,"y":467},{"x":627,"y":452},{"x":630,"y":481},{"x":633,"y":436},{"x":636,"y":459},{"x":639,"y":471},{"x":642,"y":444},{"x":645,"y":425},{"x":648,"y":478},{"x":651,"y":455},{"x":654,"y":466},{"x":657,"y":438},{"x":660,"y":483},{"x":663,"y":449},{"x":666,"y":430},{"x":669,"y":472},{"x":672,"y":460},{"x":675,"y":442},{"x":678,"y":479},{"x":681,"y":453},{"x":684,"y":468},{"x":687,"y":433},{"x":690,"y":482},{"x":693,"y":446},{"x":696,"y":461},{"x":699,"y":474},{"x":702,"y":439},{"x":705,"y":456},{"x":708,"y":484},{"x":711,"y":427},{"x":714,"y":467},{"x":717,"y":450},{"x":720,"y":476},{"x":723,"y":441},{"x":726,"y":462},{"x":729,"y":433},{"x":732,"y":480},{"x":735,"y":455},{"x":738,"y":470},{"x":741,"y":444},{"x":744,"y":428},{"x":747,"y":477},{"x":750,"y":459},{"x":753,"y":437},{"x":756,"y":483},{"x":759,"y":450},{"x":762,"y":466},{"x":765,"y":430},{"x":768,"y":474},{"x":771,"y":445},{"x":774,"y":460},{"x":777,"y":484},{"x":780,"y":438},{"x":783,"y":469},{"x":786,"y":452},{"x":789,"y":426},{"x":792,"y":479},{"x":795,"y":463},{"x":798,"y":441},{"x":801,"y":473},{"x":804,"y":456},{"x":807,"y":434},{"x":810,"y":482},{"x":813,"y":447},{"x":816,"y":467},{"x":819,"y":429},{"x":822,"y":476},{"x":825,"y":458},{"x":828,"y":440},{"x":831,"y":484},{"x":834,"y":451},{"x":837,"y":470},{"x":840,"y":435},{"x":843,"y":462},{"x":846,"y":479},{"x":849,"y":445},{"x":852,"y":427},{"x":855,"y":473},{"x":858,"y":456},{"x":861,"y":438},{"x":864,"y":483},{"x":867,"y":449},{"x":870,"y":466},{"x":873,"y":431},{"x":876,"y":477},{"x":879,"y":460},{"x":882,"y":443},{"x":885,"y":482},{"x":888,"y":452},{"x":891,"y":469},{"x":894,"y":436},{"x":897,"y":475},{"x":900,"y":458},{"x":903,"y":425},{"x":906,"y":484},{"x":909,"y":447},{"x":912,"y":467},{"x":915,"y":439},{"x":918,"y":478},{"x":921,"y":455},{"x":924,"y":432},{"x":927,"y":471},{"x":930,"y":446},{"x":933,"y":482},{"x":936,"y":461},{"x":939,"y":429},{"x":942,"y":474},{"x":945,"y":452},{"x":948,"y":440},{"x":951,"y":480},{"x":954,"y":464},{"x":957,"y":435},{"x":960,"y":472},{"x":963,"y":448},{"x":966,"y":484},{"x":969,"y":458},{"x":972,"y":427},{"x":975,"y":468},{"x":978,"y":441},{"x":981,"y":479},{"x":984,"y":455},{"x":987,"y":433},{"x":990,"y":474},{"x":993,"y":462},{"x":996,"y":444},{"x":999,"y":483},{"x":1002,"y":451},{"x":1005,"y":467},{"x":1008,"y":430},{"x":1011,"y":477},{"x":1014,"y":458},{"x":1017,"y":441},{"x":1020,"y":484},{"x":1023,"y":466},{"x":1026,"y":448},{"x":1029,"y":474},{"x":1032,"y":436},{"x":1035,"y":459},{"x":1038,"y":482},{"x":1041,"y":444},{"x":1044,"y":470},{"x":1047,"y":452},{"x":1050,"y":430},{"x":1053,"y":478},{"x":1056,"y":462},{"x":1059,"y":439},{"x":1062,"y":484},{"x":1065,"y":455},{"x":1068,"y":471},{"x":1071,"y":446},{"x":1074,"y":434},{"x":1077,"y":480},{"x":1080,"y":460},{"x":1083,"y":443},{"x":1086,"y":473},{"x":1089,"y":484},{"x":1092,"y":451},{"x":1095,"y":466},{"x":1098,"y":438},{"x":1101,"y":477},{"x":1104,"y":457},{"x":1107,"y":445},{"x":1110,"y":482},{"x":1113,"y":469},{"x":1116,"y":440},{"x":1119,"y":474},{"x":1122,"y":455},{"x":1125,"y":484},{"x":1128,"y":447},{"x":1131,"y":466},{"x":1134,"y":437},{"x":1137,"y":479},{"x":1140,"y":459},{"x":1143,"y":443},{"x":1146,"y":471},{"x":1149,"y":483},{"x":1152,"y":450},{"x":1155,"y":464},{"x":1158,"y":436},{"x":1161,"y":476},{"x":1164,"y":456},{"x":1167,"y":442},{"x":1170,"y":481},{"x":1173,"y":467},{"x":1176,"y":447},{"x":1179,"y":474},{"x":1182,"y":460},{"x":1185,"y":484},{"x":1188,"y":444},{"x":1191,"y":470},{"x":1194,"y":455},{"x":1197,"y":478},{"x":1199,"y":440},{"x":1196,"y":463},
{"x":202,"y":470},{"x":209,"y":445},{"x":217,"y":458},{"x":226,"y":480},{"x":232,"y":440},{"x":241,"y":466},{"x":248,"y":452},{"x":256,"y":478},{"x":263,"y":447},{"x":271,"y":460},{"x":278,"y":440},{"x":287,"y":472},{"x":295,"y":450},{"x":302,"y":483},{"x":310,"y":462},{"x":319,"y":448},{"x":326,"y":474},{"x":334,"y":459},{"x":343,"y":440},{"x":350,"y":469},{"x":359,"y":452},{"x":367,"y":480},{"x":376,"y":444},{"x":383,"y":462},{"x":391,"y":434},{"x":400,"y":470},{"x":409,"y":448},{"x":418,"y":462},{"x":427,"y":441},{"x":436,"y":479},{"x":445,"y":460},{"x":454,"y":432},{"x":463,"y":470},{"x":472,"y":450},{"x":481,"y":466},{"x":490,"y":444},{"x":499,"y":480},{"x":508,"y":437},{"x":517,"y":458},{"x":526,"y":446},{"x":535,"y":470},{"x":544,"y":432},{"x":553,"y":456},{"x":562,"y":440},{"x":571,"y":478},{"x":580,"y":448},{"x":589,"y":466},{"x":598,"y":424},{"x":607,"y":472},{"x":616,"y":452},{"x":625,"y":436},{"x":634,"y":480},{"x":643,"y":460},{"x":652,"y":446},{"x":661,"y":470},{"x":670,"y":436},{"x":679,"y":462},{"x":688,"y":450},{"x":697,"y":480},{"x":706,"y":442},{"x":715,"y":460},{"x":724,"y":452},{"x":733,"y":470},{"x":742,"y":436},{"x":751,"y":466},{"x":760,"y":444},{"x":769,"y":482},{"x":778,"y":452},{"x":787,"y":470},{"x":796,"y":434},{"x":805,"y":462},{"x":814,"y":440},{"x":823,"y":472},{"x":832,"y":446},{"x":841,"y":480},{"x":850,"y":458},{"x":859,"y":432},{"x":868,"y":474},{"x":877,"y":448},{"x":886,"y":466},{"x":895,"y":440},{"x":904,"y":470},{"x":913,"y":456},{"x":922,"y":482},{"x":931,"y":438},{"x":940,"y":462},{"x":949,"y":450},{"x":958,"y":476},{"x":967,"y":444},{"x":976,"y":460},{"x":985,"y":470},{"x":994,"y":452},{"x":1003,"y":440},{"x":1012,"y":466},{"x":1021,"y":454},{"x":1030,"y":478},{"x":1039,"y":448},{"x":1048,"y":462},{"x":1057,"y":472},{"x":1066,"y":440},{"x":1075,"y":466},{"x":1084,"y":452},{"x":1093,"y":476},{"x":1102,"y":446},{"x":1111,"y":460},{"x":1120,"y":444},{"x":1129,"y":472},{"x":1138,"y":452},{"x":1147,"y":480},{"x":1156,"y":446},{"x":1165,"y":466},{"x":1174,"y":458},{"x":1183,"y":476},{"x":1192,"y":448},
{"x":522,"y":330},{"x":526,"y":352},{"x":530,"y":375},{"x":534,"y":398},{"x":538,"y":420},{"x":542,"y":341},{"x":546,"y":364},{"x":550,"y":387},{"x":554,"y":410},{"x":558,"y":430},{"x":562,"y":318},{"x":566,"y":336},{"x":570,"y":358},{"x":574,"y":381},{"x":578,"y":404},{"x":582,"y":424},{"x":586,"y":300},{"x":590,"y":322},{"x":594,"y":345},{"x":598,"y":368},{"x":602,"y":391},{"x":606,"y":414},{"x":610,"y":282},{"x":614,"y":305},{"x":618,"y":328},{"x":622,"y":350},{"x":626,"y":373},{"x":630,"y":396},{"x":634,"y":419},{"x":638,"y":290},{"x":642,"y":312},{"x":646,"y":335},{"x":650,"y":357},{"x":654,"y":380},{"x":658,"y":402},{"x":662,"y":424},{"x":666,"y":296},{"x":670,"y":318},{"x":674,"y":341},{"x":678,"y":364},{"x":682,"y":386},{"x":686,"y":409},{"x":690,"y":300},{"x":694,"y":322},{"x":698,"y":345},{"x":702,"y":368},{"x":706,"y":390},{"x":710,"y":413},{"x":714,"y":305},{"x":718,"y":327},{"x":722,"y":350},{"x":726,"y":372},{"x":730,"y":395},{"x":734,"y":418},{"x":738,"y":312},{"x":742,"y":334},{"x":746,"y":357},{"x":750,"y":379},{"x":754,"y":402},{"x":758,"y":424},{"x":762,"y":322},{"x":766,"y":344},{"x":770,"y":366},{"x":774,"y":389},{"x":778,"y":411},{"x":782,"y":330},{"x":786,"y":352},{"x":790,"y":374},{"x":794,"y":396},{"x":798,"y":419},{"x":802,"y":340},{"x":806,"y":361},{"x":810,"y":384},{"x":814,"y":406},{"x":818,"y":428},{"x":822,"y":348},{"x":826,"y":370},{"x":830,"y":392},{"x":834,"y":414},{"x":838,"y":352},{"x":842,"y":376},{"x":846,"y":398},{"x":850,"y":420},{"x":854,"y":362},{"x":858,"y":384},{"x":862,"y":406},{"x":866,"y":428},{"x":870,"y":366},{"x":874,"y":390},{"x":878,"y":412},{"x":882,"y":370},{"x":886,"y":394},{"x":890,"y":416},{"x":894,"y":375},{"x":898,"y":398},{"x":902,"y":420},{"x":906,"y":380},{"x":910,"y":402},{"x":914,"y":424},{"x":918,"y":384},{"x":922,"y":408},{"x":926,"y":428},{"x":930,"y":388},{"x":934,"y":410},{"x":938,"y":392},{"x":942,"y":414},{"x":946,"y":396},{"x":950,"y":418},{"x":954,"y":404},{"x":958,"y":422},{"x":962,"y":394},{"x":966,"y":412},{"x":970,"y":400},{"x":974,"y":426},{"x":978,"y":408},{"x":982,"y":420},{"x":986,"y":404},{"x":990,"y":414},{"x":994,"y":426},{"x":998,"y":410},{"x":1002,"y":420},{"x":1006,"y":428},{"x":1010,"y":416},{"x":1014,"y":424},{"x":1022,"y":420},{"x":1030,"y":426},{"x":1046,"y":424},
{"x":524,"y":366},{"x":529,"y":341},{"x":533,"y":412},{"x":537,"y":383},{"x":541,"y":326},{"x":547,"y":402},{"x":551,"y":352},{"x":556,"y":423},{"x":560,"y":309},{"x":563,"y":376},{"x":568,"y":289},{"x":572,"y":417},{"x":575,"y":338},{"x":579,"y":271},{"x":584,"y":393},{"x":587,"y":315},{"x":592,"y":428},{"x":596,"y":284},{"x":600,"y":355},{"x":603,"y":404},{"x":607,"y":262},{"x":611,"y":333},{"x":616,"y":387},{"x":619,"y":295},{"x":623,"y":421},{"x":628,"y":348},{"x":632,"y":271},{"x":636,"y":401},{"x":641,"y":318},{"x":645,"y":366},{"x":649,"y":280},{"x":653,"y":427},{"x":657,"y":339},{"x":661,"y":297},{"x":666,"y":384},{"x":670,"y":412},{"x":674,"y":326},{"x":677,"y":283},{"x":682,"y":353},{"x":686,"y":428},{"x":689,"y":307},{"x":694,"y":392},{"x":698,"y":335},{"x":703,"y":418},{"x":707,"y":298},{"x":711,"y":371},{"x":716,"y":346},{"x":720,"y":424},{"x":724,"y":309},{"x":729,"y":387},{"x":733,"y":358},{"x":738,"y":413},{"x":742,"y":322},{"x":747,"y":397},{"x":751,"y":345},{"x":756,"y":428},{"x":760,"y":366},{"x":765,"y":321},{"x":769,"y":404},{"x":774,"y":383},{"x":778,"y":347},{"x":783,"y":423},{"x":787,"y":362},{"x":792,"y":334},{"x":796,"y":401},{"x":801,"y":375},{"x":806,"y":427},{"x":810,"y":352},{"x":815,"y":392},{"x":819,"y":344},{"x":824,"y":412},{"x":828,"y":366},{"x":833,"y":398},{"x":837,"y":355},{"x":842,"y":429},{"x":846,"y":382},{"x":851,"y":362},{"x":855,"y":414},{"x":860,"y":396},{"x":864,"y":371},{"x":869,"y":425},{"x":873,"y":385},{"x":878,"y":407},{"x":882,"y":376},{"x":887,"y":419},{"x":891,"y":392},{"x":896,"y":372},{"x":900,"y":428},{"x":905,"y":401},{"x":909,"y":384},{"x":914,"y":416},{"x":918,"y":379},{"x":923,"y":404},{"x":927,"y":426},{"x":932,"y":391},{"x":936,"y":413},{"x":941,"y":398},{"x":945,"y":385},{"x":950,"y":424},{"x":954,"y":407},{"x":959,"y":392},{"x":963,"y":418},{"x":968,"y":401},{"x":972,"y":428},{"x":977,"y":410},{"x":981,"y":420},{"x":986,"y":406},{"x":990,"y":425},{"x":995,"y":414},{"x":999,"y":428},
{"x":203,"y":120},{"x":205,"y":143},{"x":207,"y":98},{"x":209,"y":151},{"x":211,"y":86},{"x":213,"y":132},{"x":216,"y":108},{"x":218,"y":146},{"x":221,"y":92},{"x":224,"y":158},{"x":227,"y":125},{"x":230,"y":139},{"x":233,"y":103},{"x":236,"y":160},{"x":239,"y":118},{"x":242,"y":150},{"x":245,"y":96},{"x":248,"y":166},{"x":251,"y":131},{"x":254,"y":108},{"x":257,"y":156},{"x":260,"y":144},{"x":263,"y":170},{"x":266,"y":114},{"x":269,"y":128},{"x":272,"y":176},{"x":275,"y":160},{"x":278,"y":118},{"x":281,"y":183},{"x":284,"y":139},{"x":287,"y":170},{"x":290,"y":124},{"x":293,"y":190},{"x":296,"y":152},{"x":299,"y":178},{"x":302,"y":130},{"x":305,"y":198},{"x":308,"y":165},{"x":311,"y":137},{"x":314,"y":185},{"x":317,"y":204},{"x":320,"y":140},{"x":323,"y":171},{"x":326,"y":208},{"x":329,"y":148},{"x":332,"y":193},{"x":335,"y":212},{"x":338,"y":143},{"x":341,"y":181},{"x":344,"y":217},{"x":347,"y":151},{"x":350,"y":203},{"x":353,"y":160},{"x":356,"y":220},{"x":359,"y":146},{"x":362,"y":189},{"x":365,"y":226},{"x":368,"y":152},{"x":371,"y":213},{"x":374,"y":230},{"x":377,"y":158},{"x":380,"y":197},{"x":383,"y":235},{"x":386,"y":162},{"x":389,"y":220},{"x":392,"y":241},{"x":395,"y":165},{"x":398,"y":206},{"x":401,"y":248},{"x":404,"y":172},{"x":407,"y":233},{"x":410,"y":253},{"x":413,"y":176},{"x":416,"y":215},{"x":419,"y":258},{"x":422,"y":180},{"x":425,"y":240},{"x":428,"y":265},{"x":431,"y":185},{"x":434,"y":226},{"x":437,"y":270},{"x":440,"y":190},{"x":443,"y":250},{"x":446,"y":276},{"x":449,"y":192},{"x":452,"y":235},{"x":455,"y":281},{"x":458,"y":197},{"x":461,"y":258},{"x":464,"y":286},{"x":467,"y":201},{"x":470,"y":244},{"x":473,"y":290},{"x":476,"y":208},{"x":479,"y":268},{"x":482,"y":296},{"x":485,"y":214},{"x":488,"y":252},{"x":491,"y":302},{"x":494,"y":219},{"x":497,"y":276},{"x":500,"y":306},{"x":503,"y":226},{"x":506,"y":262},{"x":509,"y":312},{"x":512,"y":230},{"x":515,"y":284},{"x":518,"y":318},{"x":521,"y":234},{"x":524,"y":270},{"x":527,"y":323},{"x":530,"y":236},{"x":533,"y":294},{"x":536,"y":240},{"x":539,"y":278},{"x":542,"y":305},{"x":545,"y":242},{"x":548,"y":286},{"x":551,"y":314},{"x":554,"y":246},{"x":557,"y":296},{"x":560,"y":250},{"x":566,"y":262},{"x":572,"y":276},{"x":578,"y":252},{"x":584,"y":268},{"x":590,"y":256},{"x":596,"y":280},{"x":602,"y":262},{"x":608,"y":272},{"x":614,"y":266},{"x":620,"y":284},{"x":626,"y":270},{"x":632,"y":290},{"x":638,"y":278},{"x":644,"y":272},{"x":650,"y":292},{"x":656,"y":282},{"x":662,"y":300},{"x":668,"y":286},{"x":674,"y":296},{"x":680,"y":290},{"x":686,"y":308},{"x":692,"y":298},{"x":698,"y":312},{"x":704,"y":304},{"x":710,"y":316},{"x":716,"y":310},{"x":722,"y":320},{"x":728,"y":314},{"x":734,"y":326},{"x":740,"y":320},{"x":746,"y":332},{"x":752,"y":326},{"x":758,"y":338},{"x":764,"y":330},{"x":770,"y":342},{"x":776,"y":336},{"x":782,"y":346},{"x":788,"y":340},{"x":794,"y":352},{"x":800,"y":346},{"x":806,"y":356},
{"x":206,"y":128},{"x":208,"y":110},{"x":212,"y":140},{"x":215,"y":95},{"x":217,"y":121},{"x":220,"y":150},{"x":223,"y":104},{"x":226,"y":137},{"x":229,"y":90},{"x":231,"y":153},{"x":234,"y":126},{"x":238,"y":112},{"x":241,"y":143},{"x":244,"y":128},{"x":247,"y":157},{"x":250,"y":117},{"x":253,"y":146},{"x":256,"y":124},{"x":258,"y":163},{"x":261,"y":135},{"x":265,"y":150},{"x":268,"y":112},{"x":271,"y":165},{"x":274,"y":131},{"x":277,"y":145},{"x":280,"y":172},{"x":283,"y":126},{"x":286,"y":157},{"x":289,"y":138},{"x":292,"y":178},{"x":295,"y":144},{"x":298,"y":163},{"x":301,"y":134},{"x":304,"y":184},{"x":307,"y":151},{"x":310,"y":170},{"x":313,"y":142},{"x":316,"y":192},{"x":319,"y":160},{"x":322,"y":181},{"x":325,"y":147},{"x":328,"y":199},{"x":331,"y":158},{"x":334,"y":174},{"x":337,"y":150},{"x":340,"y":205},{"x":343,"y":163},{"x":346,"y":187},{"x":349,"y":157},{"x":352,"y":210},{"x":355,"y":170},{"x":358,"y":195},{"x":361,"y":160},{"x":364,"y":214},{"x":367,"y":178},{"x":370,"y":204},{"x":373,"y":162},{"x":376,"y":221},{"x":379,"y":186},{"x":382,"y":209},{"x":385,"y":167},{"x":388,"y":227},{"x":391,"y":194},{"x":394,"y":217},{"x":397,"y":172},{"x":400,"y":235},{"x":403,"y":200},{"x":406,"y":224},{"x":409,"y":180},{"x":412,"y":242},{"x":415,"y":208},{"x":418,"y":231},{"x":421,"y":188},{"x":424,"y":250},{"x":427,"y":218},{"x":430,"y":238},{"x":433,"y":195},{"x":436,"y":258},{"x":439,"y":226},{"x":442,"y":246},{"x":445,"y":200},{"x":448,"y":266},{"x":451,"y":232},{"x":454,"y":254},{"x":457,"y":206},{"x":460,"y":274},{"x":463,"y":240},{"x":466,"y":262},{"x":469,"y":212},{"x":472,"y":281},{"x":475,"y":249},{"x":478,"y":271},{"x":481,"y":218},{"x":484,"y":289},{"x":487,"y":258},{"x":490,"y":279},{"x":493,"y":226},{"x":496,"y":297},{"x":499,"y":266},{"x":502,"y":287},{"x":505,"y":232},{"x":508,"y":304},{"x":511,"y":275},{"x":514,"y":296},{"x":517,"y":238},{"x":520,"y":312},{"x":523,"y":283},{"x":526,"y":304},{"x":529,"y":244},{"x":532,"y":318},{"x":535,"y":290},{"x":538,"y":310},{"x":541,"y":248},{"x":544,"y":322},{"x":547,"y":298},{"x":550,"y":268},{"x":553,"y":330},{"x":556,"y":306},{"x":559,"y":256},{"x":562,"y":318},{"x":565,"y":282},{"x":568,"y":298},{"x":571,"y":262},{"x":574,"y":326},{"x":577,"y":290},{"x":580,"y":310},{"x":583,"y":266},{"x":586,"y":334},{"x":589,"y":294},{"x":592,"y":276},{"x":595,"y":314},{"x":598,"y":260},{"x":601,"y":340},{"x":604,"y":300},{"x":607,"y":282},{"x":610,"y":322},{"x":613,"y":270},{"x":616,"y":344},{"x":619,"y":306},{"x":622,"y":290},{"x":625,"y":330},{"x":628,"y":276},{"x":631,"y":352},{"x":634,"y":314},{"x":637,"y":296},{"x":640,"y":336},{"x":643,"y":282},{"x":646,"y":356},{"x":649,"y":320},{"x":652,"y":304},{"x":655,"y":342},{"x":658,"y":288},{"x":661,"y":362},{"x":664,"y":326},{"x":667,"y":310},{"x":670,"y":348},{"x":673,"y":294},{"x":676,"y":368},{"x":679,"y":332},{"x":682,"y":316},{"x":685,"y":354},{"x":688,"y":300},{"x":691,"y":372},{"x":694,"y":338},{"x":697,"y":322},{"x":700,"y":358},{"x":703,"y":306},{"x":706,"y":378},{"x":709,"y":344},{"x":712,"y":328},{"x":715,"y":362},{"x":718,"y":312},{"x":721,"y":382},{"x":724,"y":348},{"x":727,"y":334},{"x":730,"y":366},{"x":733,"y":318},{"x":736,"y":386},{"x":739,"y":352},{"x":742,"y":340},{"x":745,"y":372},{"x":748,"y":324},{"x":751,"y":392},{"x":754,"y":356},{"x":757,"y":346},{"x":760,"y":376},{"x":763,"y":330},{"x":766,"y":398},{"x":769,"y":360},{"x":772,"y":350},{"x":775,"y":380},{"x":778,"y":336},{"x":781,"y":402},{"x":784,"y":364},{"x":787,"y":354},{"x":790,"y":384},{"x":793,"y":342},{"x":796,"y":408},{"x":799,"y":368},{"x":802,"y":358},{"x":805,"y":388},{"x":808,"y":348},{"x":811,"y":412},{"x":814,"y":372},{"x":817,"y":362},{"x":820,"y":392},{"x":823,"y":354},{"x":826,"y":416},{"x":829,"y":376},{"x":832,"y":366},{"x":835,"y":396},{"x":838,"y":360},{"x":841,"y":420},{"x":844,"y":380},{"x":847,"y":370},{"x":850,"y":400},{"x":853,"y":364},{"x":856,"y":424},{"x":859,"y":384},{"x":862,"y":374},{"x":865,"y":404},{"x":868,"y":368},{"x":871,"y":428},{"x":874,"y":388},{"x":877,"y":378},{"x":880,"y":408},{"x":883,"y":372},{"x":886,"y":432},{"x":889,"y":392},{"x":892,"y":382},{"x":895,"y":412},{"x":898,"y":376},{"x":901,"y":436},{"x":904,"y":396},{"x":907,"y":386},{"x":910,"y":416},{"x":913,"y":378},{"x":916,"y":440},{"x":919,"y":400},{"x":922,"y":390},{"x":925,"y":420},{"x":928,"y":382},{"x":931,"y":444},{"x":934,"y":404},{"x":937,"y":394},{"x":940,"y":424},{"x":943,"y":386},{"x":946,"y":448},{"x":949,"y":408},{"x":952,"y":398},{"x":955,"y":428},{"x":958,"y":390},{"x":961,"y":452},{"x":964,"y":412},{"x":967,"y":402},{"x":970,"y":432},{"x":973,"y":396},{"x":976,"y":456},{"x":979,"y":416},{"x":982,"y":406},{"x":985,"y":436},{"x":988,"y":402},{"x":991,"y":460},{"x":994,"y":420},{"x":997,"y":410},{"x":1000,"y":440},{"x":1003,"y":408},{"x":1010,"y":430},{"x":1020,"y":436},{"x":1035,"y":428},{"x":1055,"y":436},{"x":1075,"y":438},{"x":1095,"y":444},{"x":1110,"y":442},{"x":1130,"y":446},{"x":1150,"y":444},{"x":1170,"y":446},{"x":1190,"y":448},
{"x":204,"y":137},{"x":210,"y":101},{"x":214,"y":148},{"x":219,"y":116},{"x":225,"y":97},{"x":228,"y":131},{"x":235,"y":148},{"x":239,"y":104},{"x":246,"y":138},{"x":249,"y":164},{"x":255,"y":113},{"x":259,"y":151},{"x":264,"y":129},{"x":270,"y":157},{"x":273,"y":118},{"x":279,"y":141},{"x":285,"y":174},{"x":288,"y":131},{"x":294,"y":160},{"x":297,"y":189},{"x":304,"y":142},{"x":309,"y":176},{"x":312,"y":158},{"x":318,"y":198},{"x":321,"y":136},{"x":327,"y":173},{"x":333,"y":203},{"x":336,"y":155},{"x":342,"y":192},{"x":348,"y":146},{"x":351,"y":214},{"x":357,"y":182},{"x":363,"y":158},{"x":366,"y":201},{"x":372,"y":222},{"x":378,"y":172},{"x":381,"y":232},{"x":387,"y":201},{"x":393,"y":173},{"x":396,"y":228},{"x":402,"y":187},{"x":408,"y":246},{"x":411,"y":214},{"x":417,"y":179},{"x":420,"y":256},{"x":426,"y":233},{"x":432,"y":188},{"x":435,"y":262},{"x":441,"y":211},{"x":447,"y":244},{"x":450,"y":196},{"x":456,"y":273},{"x":462,"y":228},{"x":465,"y":205},{"x":471,"y":263},{"x":477,"y":294},{"x":480,"y":236},{"x":486,"y":214},{"x":492,"y":284},{"x":498,"y":246},{"x":504,"y":300},{"x":510,"y":227},{"x":516,"y":266},{"x":519,"y":322},{"x":525,"y":247},{"x":531,"y":289},{"x":537,"y":253},{"x":543,"y":313},
{"x":248,"y":63},{"x":257,"y":62},{"x":275,"y":63},{"x":289,"y":64},{"x":307,"y":63},{"x":347,"y":62},{"x":378,"y":63},{"x":387,"y":63},{"x":423,"y":64},{"x":464,"y":63},{"x":504,"y":63},{"x":540,"y":64},{"x":567,"y":63},{"x":576,"y":63},{"x":585,"y":64},{"x":630,"y":63},{"x":634,"y":63},{"x":670,"y":64},{"x":720,"y":62},{"x":836,"y":63},{"x":850,"y":63},{"x":868,"y":64},{"x":877,"y":63},{"x":966,"y":63},{"x":1020,"y":64},{"x":1029,"y":63},{"x":1119,"y":63},{"x":1146,"y":64},{"x":1177,"y":63}
],
"Rb":[
{"x":201,"y":398},{"x":204,"y":386},{"x":208,"y":404},{"x":212,"y":392},{"x":216,"y":401},{"x":220,"y":385},{"x":224,"y":407},{"x":228,"y":396},{"x":233,"y":388},{"x":237,"y":403},{"x":242,"y":393},{"x":246,"y":384},{"x":250,"y":406},{"x":255,"y":398},{"x":259,"y":389},{"x":264,"y":402},{"x":268,"y":383},{"x":273,"y":395},{"x":277,"y":407},{"x":282,"y":390},{"x":286,"y":400},{"x":291,"y":384},{"x":295,"y":396},{"x":300,"y":405},{"x":304,"y":388},{"x":309,"y":399},{"x":313,"y":386},{"x":318,"y":403},{"x":322,"y":392},{"x":327,"y":382},{"x":331,"y":397},{"x":336,"y":406},{"x":340,"y":389},{"x":345,"y":400},{"x":349,"y":384},{"x":354,"y":393},{"x":358,"y":405},{"x":363,"y":387},{"x":367,"y":398},{"x":372,"y":383},{"x":376,"y":402},{"x":381,"y":391},{"x":385,"y":385},{"x":390,"y":404},{"x":394,"y":395},{"x":399,"y":386},{"x":403,"y":400},{"x":408,"y":389},{"x":412,"y":406},{"x":417,"y":392},{"x":421,"y":384},{"x":426,"y":398},{"x":430,"y":388},{"x":435,"y":403},{"x":439,"y":391},{"x":444,"y":384},{"x":448,"y":397},{"x":453,"y":388},{"x":457,"y":406},{"x":462,"y":392},{"x":466,"y":385},{"x":471,"y":399},{"x":475,"y":389},{"x":480,"y":403},{"x":484,"y":391},{"x":489,"y":386},{"x":493,"y":400},{"x":498,"y":393},{"x":502,"y":388},{"x":507,"y":405},{"x":511,"y":396},{"x":516,"y":390},{"x":520,"y":402},{"x":525,"y":392},{"x":530,"y":398},{"x":535,"y":389},{"x":540,"y":404},{"x":545,"y":395},{"x":550,"y":386},{"x":555,"y":399},{"x":560,"y":392},
{"x":1000,"y":404},{"x":1008,"y":397},{"x":1015,"y":407},{"x":1022,"y":400},{"x":1030,"y":395},{"x":1038,"y":405},{"x":1045,"y":399},{"x":1052,"y":392},{"x":1060,"y":401},{"x":1068,"y":396},{"x":1075,"y":406},{"x":1083,"y":393},{"x":1090,"y":400},{"x":1098,"y":396},{"x":1105,"y":404},{"x":1113,"y":398},{"x":1120,"y":391},{"x":1128,"y":403},{"x":1135,"y":397},{"x":1143,"y":392},{"x":1150,"y":405},{"x":1158,"y":399},{"x":1165,"y":394},{"x":1173,"y":404},{"x":1180,"y":398},{"x":1188,"y":392},{"x":1195,"y":406},{"x":1199,"y":399},
{"x":565,"y":402},{"x":575,"y":396},{"x":585,"y":408},{"x":595,"y":390},{"x":605,"y":401},{"x":615,"y":385},{"x":625,"y":397},{"x":635,"y":406},{"x":645,"y":389},{"x":655,"y":399},{"x":665,"y":383},{"x":675,"y":404},{"x":685,"y":392},{"x":695,"y":377},{"x":705,"y":400},{"x":715,"y":388},{"x":725,"y":370},{"x":735,"y":403},{"x":745,"y":393},{"x":755,"y":380},{"x":765,"y":405},{"x":775,"y":394},{"x":785,"y":372},{"x":795,"y":399},{"x":805,"y":386},{"x":815,"y":404},{"x":825,"y":392},{"x":835,"y":378},{"x":845,"y":400},{"x":855,"y":388},{"x":865,"y":406},{"x":875,"y":395},{"x":885,"y":382},{"x":895,"y":401},{"x":905,"y":392},{"x":915,"y":408},{"x":925,"y":398},{"x":935,"y":388},{"x":945,"y":404},{"x":955,"y":395},{"x":965,"y":407},{"x":975,"y":399},{"x":985,"y":403},{"x":992,"y":396},{"x":700,"y":364},{"x":720,"y":358},{"x":740,"y":366},{"x":760,"y":352},{"x":780,"y":362},{"x":800,"y":368},{"x":820,"y":372},{"x":840,"y":366},{"x":860,"y":376},{"x":880,"y":374},{"x":900,"y":380},{"x":690,"y":346},{"x":710,"y":342},{"x":730,"y":350},{"x":750,"y":356},{"x":770,"y":345},{"x":790,"y":356},{"x":810,"y":362},{"x":830,"y":380},{"x":850,"y":410},{"x":870,"y":383},{"x":890,"y":390},{"x":910,"y":385},{"x":930,"y":396},{"x":950,"y":387},
{"x":202,"y":92},{"x":205,"y":86},{"x":207,"y":101},{"x":210,"y":112},{"x":213,"y":95},{"x":216,"y":120},{"x":219,"y":107},{"x":222,"y":126},{"x":226,"y":113},{"x":229,"y":104},{"x":232,"y":130},{"x":236,"y":119},{"x":240,"y":127},{"x":244,"y":112},{"x":248,"y":135},{"x":252,"y":124},{"x":256,"y":140},{"x":260,"y":131},{"x":264,"y":146},{"x":268,"y":126},{"x":272,"y":141},{"x":276,"y":150},{"x":281,"y":137},{"x":285,"y":155},{"x":290,"y":145},{"x":294,"y":162},{"x":298,"y":150},{"x":303,"y":140},{"x":307,"y":166},{"x":311,"y":155},{"x":316,"y":171},{"x":320,"y":160},{"x":325,"y":150},{"x":329,"y":176},{"x":334,"y":164},{"x":338,"y":181},{"x":343,"y":170},{"x":347,"y":158},{"x":352,"y":185},{"x":356,"y":174},{"x":361,"y":190},{"x":365,"y":179},{"x":370,"y":169},{"x":374,"y":196},{"x":379,"y":184},{"x":383,"y":200},{"x":388,"y":190},{"x":392,"y":206},{"x":397,"y":178},{"x":401,"y":196},{"x":405,"y":212},{"x":410,"y":201},{"x":414,"y":218},{"x":419,"y":206},{"x":423,"y":222},{"x":428,"y":212},{"x":432,"y":196},{"x":437,"y":228},{"x":441,"y":217},{"x":446,"y":234},{"x":450,"y":222},{"x":455,"y":240},{"x":459,"y":229},{"x":464,"y":245},{"x":468,"y":234},{"x":473,"y":250},{"x":477,"y":238},{"x":482,"y":256},{"x":486,"y":244},{"x":491,"y":261},{"x":495,"y":249},{"x":500,"y":266},{"x":504,"y":254},{"x":509,"y":271},{"x":513,"y":259},{"x":518,"y":276},{"x":522,"y":264},{"x":527,"y":281},{"x":531,"y":269},{"x":536,"y":286},{"x":540,"y":272},{"x":545,"y":292},{"x":549,"y":278},{"x":554,"y":296},{"x":558,"y":284},{"x":563,"y":301},{"x":567,"y":289},{"x":572,"y":306},{"x":576,"y":294},{"x":581,"y":312},{"x":585,"y":299},{"x":590,"y":318},{"x":594,"y":304},{"x":599,"y":322},{"x":603,"y":310},{"x":608,"y":328},{"x":612,"y":315},{"x":617,"y":333},{"x":621,"y":320},{"x":626,"y":338},{"x":630,"y":325},{"x":635,"y":343},{"x":639,"y":330},{"x":644,"y":348},{"x":648,"y":336},{"x":653,"y":352},{"x":657,"y":340},{"x":662,"y":358},{"x":666,"y":346},{"x":671,"y":362},{"x":675,"y":350},{"x":680,"y":368},{"x":684,"y":356},{"x":610,"y":362},{"x":630,"y":380},{"x":650,"y":372},{"x":600,"y":380},{"x":620,"y":398},{"x":640,"y":366}
]
},
"hconcat":[
{
 "width":455,"height":454,
 "title":{"text":"μ=500 GeV","dx":-15,"offset":16,"frame":"group","baseline":"alphabetic"},
 "resolve":{"axis":{"x":"independent","y":"independent"}},
 "layer":[
  {"data":{"name":"Lk"},"mark":{"type":"square","size":7,"color":"#000000","opacity":1},
   "encoding":{
    "x":{"field":"x","type":"quantitative","scale":{"domain":[100,1300],"nice":false,"zero":false},
     "axis":{"values":[200,400,600,800,1000,1200],"format":"d","grid":true,"ticks":false,"domain":true,"domainWidth":2,"labelPadding":17,"labelFlush":false,"labelOverlap":false,"title":"M","titleFontSize":22,"titleX":422,"titleY":63.5,"titleAlign":"left","titleBaseline":"alphabetic"}},
    "y":{"field":"y","type":"quantitative","scale":{"domain":[50,500],"nice":false,"zero":false},
     "axis":{"values":[50,100,150,200,250,300,350,400,450,500],"format":"d","grid":true,"ticks":false,"domain":true,"domainWidth":2,"labelPadding":15,"labelFlush":false,"labelOverlap":false,"title":"M₁","titleFontSize":22,"titleAngle":270,"titleX":-55,"titleY":41.4,"titleAlign":"left","titleBaseline":"alphabetic"}}}},
  {"data":{"name":"Lr"},"mark":{"type":"square","size":7,"color":"#ee0000","opacity":1},
   "encoding":{
    "x":{"field":"x","type":"quantitative","scale":{"domain":[100,1300],"nice":false,"zero":false},
     "axis":{"values":[150,250,300,350,450,500,550,650,700,750,850,900,950,1050,1100,1150,1250],"grid":false,"domain":false,"labels":false,"ticks":true,"tickSize":-5,"tickWidth":1,"title":null}},
    "y":{"field":"y","type":"quantitative","scale":{"domain":[50,500],"nice":false,"zero":false},
     "axis":{"values":[60,70,80,90,110,120,130,140,160,170,180,190,210,220,230,240,260,270,280,290,310,320,330,340,360,370,380,390,410,420,430,440,460,470,480,490],"grid":false,"domain":false,"labels":false,"ticks":true,"tickSize":-5,"tickWidth":1,"title":null}}}},
  {"data":{"name":"Lg"},"mark":{"type":"square","size":7,"color":"#00cc00","opacity":1},
   "encoding":{
    "x":{"field":"x","type":"quantitative","scale":{"domain":[100,1300],"nice":false,"zero":false},
     "axis":{"values":[200,400,600,800,1000,1200],"grid":false,"domain":false,"labels":false,"ticks":true,"tickSize":-9,"tickWidth":1.5,"title":null}},
    "y":{"field":"y","type":"quantitative","scale":{"domain":[50,500],"nice":false,"zero":false},
     "axis":{"values":[100,150,200,250,300,350,400,450],"grid":false,"domain":false,"labels":false,"ticks":true,"tickSize":-10,"tickWidth":1.5,"title":null}}}},
  {"data":{"name":"diag"},"mark":{"type":"line","color":"black","strokeWidth":1.6},
   "encoding":{"x":{"field":"x","type":"quantitative","scale":{"domain":[100,1300],"nice":false,"zero":false},"axis":null},"y":{"field":"y","type":"quantitative","scale":{"domain":[50,500],"nice":false,"zero":false},"axis":null}}},
  {"data":{"name":"La"},"transform":[{"filter":"datum.k === 'box'"}],"mark":{"type":"rect","fill":"white","stroke":"black","strokeWidth":1.2},
   "encoding":{"x":{"field":"x","type":"quantitative","scale":{"domain":[100,1300],"nice":false,"zero":false},"axis":null},"x2":{"field":"x2"},"y":{"field":"y","type":"quantitative","scale":{"domain":[50,500],"nice":false,"zero":false},"axis":null},"y2":{"field":"y2"}}},
  {"data":{"name":"La"},"transform":[{"filter":{"field":"k","oneOf":["a1","a2"]}}],"mark":{"type":"rule","color":"#222","strokeWidth":1},
   "encoding":{"x":{"field":"x","type":"quantitative","scale":{"domain":[100,1300],"nice":false,"zero":false},"axis":null},"x2":{"field":"x2"},"y":{"field":"y","type":"quantitative","scale":{"domain":[50,500],"nice":false,"zero":false},"axis":null},"y2":{"field":"y2"}}},
  {"data":{"name":"La"},"transform":[{"filter":"datum.k === 'a1'"}],"mark":{"type":"point","shape":"triangle-up","filled":true,"color":"black","opacity":1,"size":35,"angle":26},
   "encoding":{"x":{"field":"x2","type":"quantitative","scale":{"domain":[100,1300],"nice":false,"zero":false},"axis":null},"y":{"field":"y2","type":"quantitative","scale":{"domain":[50,500],"nice":false,"zero":false},"axis":null}}},
  {"data":{"name":"La"},"transform":[{"filter":"datum.k === 'a2'"}],"mark":{"type":"point","shape":"triangle-up","filled":true,"color":"black","opacity":1,"size":35,"angle":252},
   "encoding":{"x":{"field":"x2","type":"quantitative","scale":{"domain":[100,1300],"nice":false,"zero":false},"axis":null},"y":{"field":"y2","type":"quantitative","scale":{"domain":[50,500],"nice":false,"zero":false},"axis":null}}},
  {"data":{"name":"La"},"transform":[{"filter":"datum.k === 'coan'"}],"mark":{"type":"text","font":"DejaVu Sans","fontSize":15,"align":"center","baseline":"middle","color":"black"},
   "encoding":{"x":{"field":"x","type":"quantitative","scale":{"domain":[100,1300],"nice":false,"zero":false},"axis":null},"y":{"field":"y","type":"quantitative","scale":{"domain":[50,500],"nice":false,"zero":false},"axis":null},"text":{"field":"t"}}},
  {"data":{"name":"La"},"transform":[{"filter":{"field":"k","oneOf":["chi","ff"]}}],"mark":{"type":"text","font":"DejaVu Serif","fontStyle":"italic","fontSize":17,"align":"left","baseline":"alphabetic","color":"#222"},
   "encoding":{"x":{"field":"x","type":"quantitative","scale":{"domain":[100,1300],"nice":false,"zero":false},"axis":null},"y":{"field":"y","type":"quantitative","scale":{"domain":[50,500],"nice":false,"zero":false},"axis":null},"text":{"field":"t"}}},
  {"data":{"name":"La"},"transform":[{"filter":{"field":"k","oneOf":["chiB","ffB"]}}],"mark":{"type":"text","font":"DejaVu Serif","fontStyle":"italic","fontSize":18,"align":"left","baseline":"alphabetic","color":"#222"},
   "encoding":{"x":{"field":"x","type":"quantitative","scale":{"domain":[100,1300],"nice":false,"zero":false},"axis":null},"y":{"field":"y","type":"quantitative","scale":{"domain":[50,500],"nice":false,"zero":false},"axis":null},"text":{"field":"t"}}},
  {"data":{"name":"La"},"transform":[{"filter":{"field":"k","oneOf":["ar","arB"]}}],"mark":{"type":"text","font":"DejaVu Sans","fontSize":20,"align":"center","baseline":"alphabetic","color":"#222"},
   "encoding":{"x":{"field":"x","type":"quantitative","scale":{"domain":[100,1300],"nice":false,"zero":false},"axis":null},"y":{"field":"y","type":"quantitative","scale":{"domain":[50,500],"nice":false,"zero":false},"axis":null},"text":{"field":"t"}}},
  {"data":{"name":"La"},"transform":[{"filter":{"field":"k","oneOf":["ov","ovB"]}}],"mark":{"type":"text","font":"DejaVu Serif","fontStyle":"italic","fontSize":12,"align":"center","baseline":"alphabetic","color":"#222"},
   "encoding":{"x":{"field":"x","type":"quantitative","scale":{"domain":[100,1300],"nice":false,"zero":false},"axis":null},"y":{"field":"y","type":"quantitative","scale":{"domain":[50,500],"nice":false,"zero":false},"axis":null},"text":{"field":"t"}}},
  {"data":{"name":"sub"},"mark":{"type":"text","font":"DejaVu Sans","fontSize":15,"align":"left","baseline":"alphabetic","color":"black","dx":-12.3,"dy":72.5},
   "encoding":{"x":{"field":"x","type":"quantitative","scale":{"domain":[100,1300],"nice":false,"zero":false},"axis":null},"y":{"field":"y","type":"quantitative","scale":{"domain":[50,500],"nice":false,"zero":false},"axis":null},"text":{"field":"t"}}}
 ]
},
{
 "width":455,"height":454,
 "title":{"text":"tanβ=50","dx":-15,"offset":16,"frame":"group","baseline":"alphabetic"},
 "resolve":{"axis":{"x":"independent","y":"independent"}},
 "layer":[
  {"data":{"name":"Rk"},"mark":{"type":"square","size":6,"color":"#000000","opacity":1},
   "encoding":{
    "x":{"field":"x","type":"quantitative","scale":{"domain":[100,1300],"nice":false,"zero":false},
     "axis":{"values":[200,400,600,800,1000,1200],"format":"d","grid":true,"ticks":false,"domain":true,"domainWidth":2,"labelPadding":17,"labelFlush":false,"labelOverlap":false,"title":"M","titleFontSize":22,"titleX":422,"titleY":63.5,"titleAlign":"left","titleBaseline":"alphabetic"}},
    "y":{"field":"y","type":"quantitative","scale":{"domain":[50,500],"nice":false,"zero":false},
     "axis":{"values":[50,100,150,200,250,300,350,400,450,500],"format":"d","grid":true,"ticks":false,"domain":true,"domainWidth":2,"labelPadding":15,"labelFlush":false,"labelOverlap":false,"title":"M₁","titleFontSize":22,"titleAngle":270,"titleX":-55,"titleY":41.4,"titleAlign":"left","titleBaseline":"alphabetic"}}}},
  {"data":{"name":"Rb"},"mark":{"type":"square","size":7,"color":"#1414f0","opacity":1},
   "encoding":{
    "x":{"field":"x","type":"quantitative","scale":{"domain":[100,1300],"nice":false,"zero":false},
     "axis":{"values":[150,250,300,350,450,500,550,650,700,750,850,900,950,1050,1100,1150,1250],"grid":false,"domain":false,"labels":false,"ticks":true,"tickSize":-5,"tickWidth":1,"title":null}},
    "y":{"field":"y","type":"quantitative","scale":{"domain":[50,500],"nice":false,"zero":false},
     "axis":{"values":[60,70,80,90,110,120,130,140,160,170,180,190,210,220,230,240,260,270,280,290,310,320,330,340,360,370,380,390,410,420,430,440,460,470,480,490],"grid":false,"domain":false,"labels":false,"ticks":true,"tickSize":-5,"tickWidth":1,"title":null}}}},
  {"data":{"name":"diag"},"mark":{"type":"line","color":"#333","strokeWidth":1,"strokeDash":[4,3]},
   "encoding":{
    "x":{"field":"x","type":"quantitative","scale":{"domain":[100,1300],"nice":false,"zero":false},
     "axis":{"values":[200,400,600,800,1000,1200],"grid":false,"domain":false,"labels":false,"ticks":true,"tickSize":-9,"tickWidth":1.5,"title":null}},
    "y":{"field":"y","type":"quantitative","scale":{"domain":[50,500],"nice":false,"zero":false},
     "axis":{"values":[100,150,200,250,300,350,400,450],"grid":false,"domain":false,"labels":false,"ticks":true,"tickSize":-10,"tickWidth":1.5,"title":null}}}},
  {"data":{"name":"Ra"},"transform":[{"filter":"datum.k === 'box'"}],"mark":{"type":"rect","fill":"white","stroke":"black","strokeWidth":1.2},
   "encoding":{"x":{"field":"x","type":"quantitative","scale":{"domain":[100,1300],"nice":false,"zero":false},"axis":null},"x2":{"field":"x2"},"y":{"field":"y","type":"quantitative","scale":{"domain":[50,500],"nice":false,"zero":false},"axis":null},"y2":{"field":"y2"}}},
  {"data":{"name":"Ra"},"transform":[{"filter":{"field":"k","oneOf":["a1","a2","a3"]}}],"mark":{"type":"rule","color":"#222","strokeWidth":1},
   "encoding":{"x":{"field":"x","type":"quantitative","scale":{"domain":[100,1300],"nice":false,"zero":false},"axis":null},"x2":{"field":"x2"},"y":{"field":"y","type":"quantitative","scale":{"domain":[50,500],"nice":false,"zero":false},"axis":null},"y2":{"field":"y2"}}},
  {"data":{"name":"Ra"},"transform":[{"filter":"datum.k === 'a1'"}],"mark":{"type":"point","shape":"triangle-up","filled":true,"color":"black","opacity":1,"size":35,"angle":19},
   "encoding":{"x":{"field":"x2","type":"quantitative","scale":{"domain":[100,1300],"nice":false,"zero":false},"axis":null},"y":{"field":"y2","type":"quantitative","scale":{"domain":[50,500],"nice":false,"zero":false},"axis":null}}},
  {"data":{"name":"Ra"},"transform":[{"filter":"datum.k === 'a2'"}],"mark":{"type":"point","shape":"triangle-up","filled":true,"color":"black","opacity":1,"size":35,"angle":48},
   "encoding":{"x":{"field":"x2","type":"quantitative","scale":{"domain":[100,1300],"nice":false,"zero":false},"axis":null},"y":{"field":"y2","type":"quantitative","scale":{"domain":[50,500],"nice":false,"zero":false},"axis":null}}},
  {"data":{"name":"Ra"},"transform":[{"filter":"datum.k === 'a3'"}],"mark":{"type":"point","shape":"triangle-up","filled":true,"color":"black","opacity":1,"size":35,"angle":252},
   "encoding":{"x":{"field":"x2","type":"quantitative","scale":{"domain":[100,1300],"nice":false,"zero":false},"axis":null},"y":{"field":"y2","type":"quantitative","scale":{"domain":[50,500],"nice":false,"zero":false},"axis":null}}},
  {"data":{"name":"Ra"},"transform":[{"filter":"datum.k === 'coan'"}],"mark":{"type":"text","font":"DejaVu Sans","fontSize":15,"align":"center","baseline":"middle","color":"black"},
   "encoding":{"x":{"field":"x","type":"quantitative","scale":{"domain":[100,1300],"nice":false,"zero":false},"axis":null},"y":{"field":"y","type":"quantitative","scale":{"domain":[50,500],"nice":false,"zero":false},"axis":null},"text":{"field":"t"}}},
  {"data":{"name":"Ra"},"transform":[{"filter":{"field":"k","oneOf":["chi","ff"]}}],"mark":{"type":"text","font":"DejaVu Serif","fontStyle":"italic","fontSize":17,"align":"left","baseline":"alphabetic","color":"#222"},
   "encoding":{"x":{"field":"x","type":"quantitative","scale":{"domain":[100,1300],"nice":false,"zero":false},"axis":null},"y":{"field":"y","type":"quantitative","scale":{"domain":[50,500],"nice":false,"zero":false},"axis":null},"text":{"field":"t"}}},
  {"data":{"name":"Ra"},"transform":[{"filter":{"field":"k","oneOf":["chiB","ffB"]}}],"mark":{"type":"text","font":"DejaVu Serif","fontStyle":"italic","fontSize":18,"align":"left","baseline":"alphabetic","color":"#222"},
   "encoding":{"x":{"field":"x","type":"quantitative","scale":{"domain":[100,1300],"nice":false,"zero":false},"axis":null},"y":{"field":"y","type":"quantitative","scale":{"domain":[50,500],"nice":false,"zero":false},"axis":null},"text":{"field":"t"}}},
  {"data":{"name":"Ra"},"transform":[{"filter":{"field":"k","oneOf":["ar","arB"]}}],"mark":{"type":"text","font":"DejaVu Sans","fontSize":20,"align":"center","baseline":"alphabetic","color":"#222"},
   "encoding":{"x":{"field":"x","type":"quantitative","scale":{"domain":[100,1300],"nice":false,"zero":false},"axis":null},"y":{"field":"y","type":"quantitative","scale":{"domain":[50,500],"nice":false,"zero":false},"axis":null},"text":{"field":"t"}}},
  {"data":{"name":"Ra"},"transform":[{"filter":{"field":"k","oneOf":["ov","ovB"]}}],"mark":{"type":"text","font":"DejaVu Serif","fontStyle":"italic","fontSize":12,"align":"center","baseline":"alphabetic","color":"#222"},
   "encoding":{"x":{"field":"x","type":"quantitative","scale":{"domain":[100,1300],"nice":false,"zero":false},"axis":null},"y":{"field":"y","type":"quantitative","scale":{"domain":[50,500],"nice":false,"zero":false},"axis":null},"text":{"field":"t"}}},
  {"data":{"name":"sub"},"mark":{"type":"text","font":"DejaVu Sans","fontSize":15,"align":"left","baseline":"alphabetic","color":"black","dx":-12.3,"dy":72.5},
   "encoding":{"x":{"field":"x","type":"quantitative","scale":{"domain":[100,1300],"nice":false,"zero":false},"axis":null},"y":{"field":"y","type":"quantitative","scale":{"domain":[50,500],"nice":false,"zero":false},"axis":null},"text":{"field":"t"}}}
 ]
}
]
}
